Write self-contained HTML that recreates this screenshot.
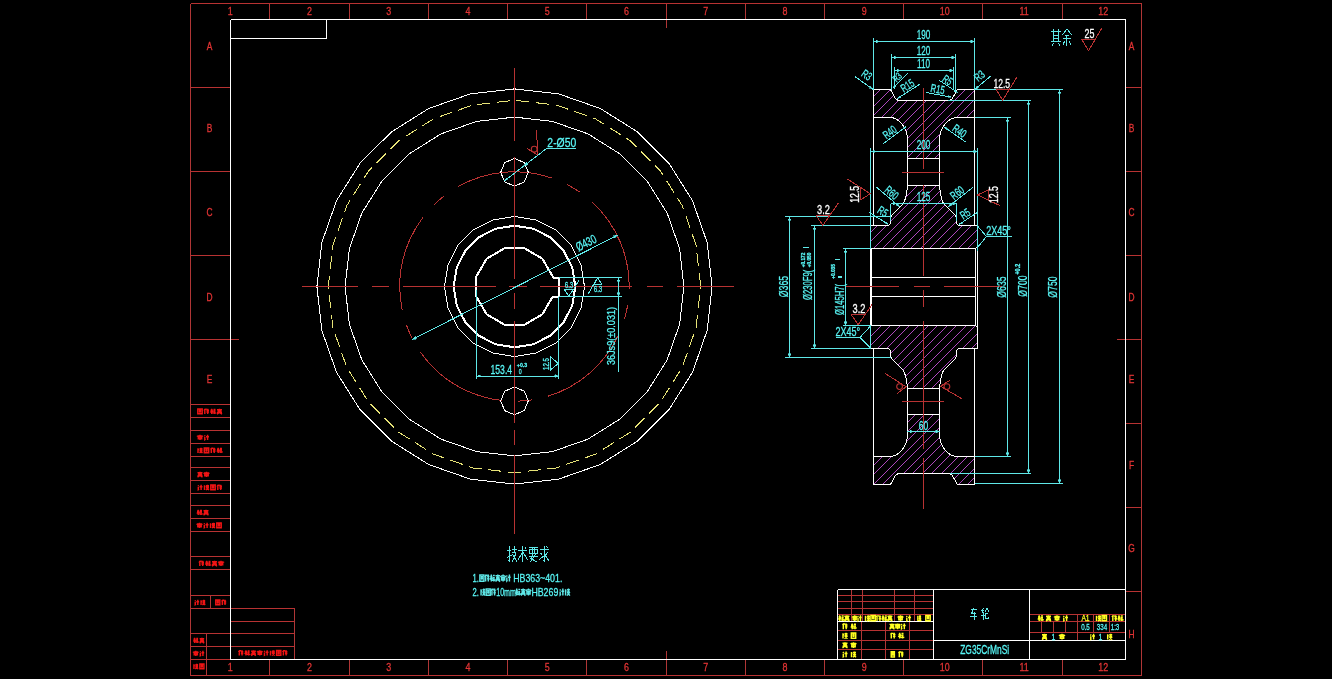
<!DOCTYPE html>
<html><head><meta charset="utf-8"><title>CAD drawing</title>
<style>
html,body{margin:0;padding:0;background:#000;overflow:hidden}
body{width:1332px;height:679px}
svg{display:block;will-change:transform}
svg text{font-family:"Liberation Sans",sans-serif}
</style></head><body>
<svg width="1332" height="679" viewBox="0 0 1332 679" shape-rendering="crispEdges">
<g shape-rendering="crispEdges">
<line x1="190.5" y1="3.5" x2="1141.5" y2="3.5" stroke="#b83232" stroke-width="1"/>
<line x1="190.5" y1="675.5" x2="1141.5" y2="675.5" stroke="#b83232" stroke-width="1"/>
<line x1="190.5" y1="3.5" x2="190.5" y2="675.5" stroke="#b03636" stroke-width="1"/>
<line x1="1141.5" y1="3.5" x2="1141.5" y2="675.5" stroke="#b03636" stroke-width="1"/>
<line x1="269.5" y1="3.5" x2="269.5" y2="19.5" stroke="#b03636" stroke-width="1"/>
<line x1="269.5" y1="659.5" x2="269.5" y2="675.5" stroke="#b03636" stroke-width="1"/>
<line x1="349.5" y1="3.5" x2="349.5" y2="19.5" stroke="#b03636" stroke-width="1"/>
<line x1="349.5" y1="659.5" x2="349.5" y2="675.5" stroke="#b03636" stroke-width="1"/>
<line x1="428.5" y1="3.5" x2="428.5" y2="19.5" stroke="#b03636" stroke-width="1"/>
<line x1="428.5" y1="659.5" x2="428.5" y2="675.5" stroke="#b03636" stroke-width="1"/>
<line x1="507.5" y1="3.5" x2="507.5" y2="19.5" stroke="#b03636" stroke-width="1"/>
<line x1="507.5" y1="659.5" x2="507.5" y2="675.5" stroke="#b03636" stroke-width="1"/>
<line x1="586.5" y1="3.5" x2="586.5" y2="19.5" stroke="#b03636" stroke-width="1"/>
<line x1="586.5" y1="659.5" x2="586.5" y2="675.5" stroke="#b03636" stroke-width="1"/>
<line x1="666.5" y1="3.5" x2="666.5" y2="19.5" stroke="#b03636" stroke-width="1"/>
<line x1="666.5" y1="659.5" x2="666.5" y2="675.5" stroke="#b03636" stroke-width="1"/>
<line x1="745.5" y1="3.5" x2="745.5" y2="19.5" stroke="#b03636" stroke-width="1"/>
<line x1="745.5" y1="659.5" x2="745.5" y2="675.5" stroke="#b03636" stroke-width="1"/>
<line x1="824.5" y1="3.5" x2="824.5" y2="19.5" stroke="#b03636" stroke-width="1"/>
<line x1="824.5" y1="659.5" x2="824.5" y2="675.5" stroke="#b03636" stroke-width="1"/>
<line x1="903.5" y1="3.5" x2="903.5" y2="19.5" stroke="#b03636" stroke-width="1"/>
<line x1="903.5" y1="659.5" x2="903.5" y2="675.5" stroke="#b03636" stroke-width="1"/>
<line x1="982.5" y1="3.5" x2="982.5" y2="19.5" stroke="#b03636" stroke-width="1"/>
<line x1="982.5" y1="659.5" x2="982.5" y2="675.5" stroke="#b03636" stroke-width="1"/>
<line x1="1062.5" y1="3.5" x2="1062.5" y2="19.5" stroke="#b03636" stroke-width="1"/>
<line x1="1062.5" y1="659.5" x2="1062.5" y2="675.5" stroke="#b03636" stroke-width="1"/>
<line x1="1125.5" y1="87.5" x2="1141.5" y2="87.5" stroke="#b83232" stroke-width="1"/>
<line x1="190.5" y1="87.5" x2="230.5" y2="87.5" stroke="#b83232" stroke-width="1"/>
<line x1="1125.5" y1="171.5" x2="1141.5" y2="171.5" stroke="#b83232" stroke-width="1"/>
<line x1="190.5" y1="171.5" x2="230.5" y2="171.5" stroke="#b83232" stroke-width="1"/>
<line x1="1125.5" y1="255.5" x2="1141.5" y2="255.5" stroke="#b83232" stroke-width="1"/>
<line x1="190.5" y1="255.5" x2="230.5" y2="255.5" stroke="#b83232" stroke-width="1"/>
<line x1="1125.5" y1="339.5" x2="1141.5" y2="339.5" stroke="#b83232" stroke-width="1"/>
<line x1="190.5" y1="339.5" x2="230.5" y2="339.5" stroke="#b83232" stroke-width="1"/>
<line x1="1125.5" y1="423.5" x2="1141.5" y2="423.5" stroke="#b83232" stroke-width="1"/>
<line x1="1125.5" y1="507.5" x2="1141.5" y2="507.5" stroke="#b83232" stroke-width="1"/>
<line x1="1125.5" y1="591.5" x2="1141.5" y2="591.5" stroke="#b83232" stroke-width="1"/>
<line x1="666.5" y1="3.5" x2="666.5" y2="28" stroke="#b03636" stroke-width="1"/>
<line x1="666.5" y1="651" x2="666.5" y2="675.5" stroke="#b03636" stroke-width="1"/>
<line x1="190.5" y1="339.5" x2="239" y2="339.5" stroke="#b83232" stroke-width="1"/>
<line x1="1117" y1="339.5" x2="1141.5" y2="339.5" stroke="#b83232" stroke-width="1"/>
<line x1="190.5" y1="404.5" x2="230.5" y2="404.5" stroke="#b83232" stroke-width="1"/>
<line x1="190.5" y1="417.5" x2="230.5" y2="417.5" stroke="#b83232" stroke-width="1"/>
<line x1="190.5" y1="430.5" x2="230.5" y2="430.5" stroke="#b83232" stroke-width="1"/>
<line x1="190.5" y1="443.5" x2="230.5" y2="443.5" stroke="#b83232" stroke-width="1"/>
<line x1="190.5" y1="456.5" x2="230.5" y2="456.5" stroke="#b83232" stroke-width="1"/>
<line x1="190.5" y1="467.5" x2="230.5" y2="467.5" stroke="#b83232" stroke-width="1"/>
<line x1="190.5" y1="480.5" x2="230.5" y2="480.5" stroke="#b83232" stroke-width="1"/>
<line x1="190.5" y1="493.5" x2="230.5" y2="493.5" stroke="#b83232" stroke-width="1"/>
<line x1="190.5" y1="505.5" x2="230.5" y2="505.5" stroke="#b83232" stroke-width="1"/>
<line x1="190.5" y1="518.5" x2="230.5" y2="518.5" stroke="#b83232" stroke-width="1"/>
<line x1="190.5" y1="531.5" x2="230.5" y2="531.5" stroke="#b83232" stroke-width="1"/>
<line x1="190.5" y1="556.5" x2="230.5" y2="556.5" stroke="#b83232" stroke-width="1"/>
<line x1="190.5" y1="569.5" x2="230.5" y2="569.5" stroke="#b83232" stroke-width="1"/>
<line x1="190.5" y1="595.5" x2="230.5" y2="595.5" stroke="#b83232" stroke-width="1"/>
<line x1="190.5" y1="608.5" x2="230.5" y2="608.5" stroke="#b83232" stroke-width="1"/>
<line x1="190.5" y1="633.5" x2="230.5" y2="633.5" stroke="#b83232" stroke-width="1"/>
<line x1="190.5" y1="646.5" x2="230.5" y2="646.5" stroke="#b83232" stroke-width="1"/>
<line x1="190.5" y1="659.5" x2="230.5" y2="659.5" stroke="#b83232" stroke-width="1"/>
<line x1="210.5" y1="595.5" x2="210.5" y2="608.5" stroke="#b03636" stroke-width="1"/>
<line x1="206.5" y1="633.5" x2="206.5" y2="675.5" stroke="#b03636" stroke-width="1"/>
<line x1="230.5" y1="608.5" x2="294.5" y2="608.5" stroke="#b83232" stroke-width="1"/>
<line x1="230.5" y1="621.5" x2="294.5" y2="621.5" stroke="#b83232" stroke-width="1"/>
<line x1="230.5" y1="633.5" x2="294.5" y2="633.5" stroke="#b83232" stroke-width="1"/>
<line x1="230.5" y1="646.5" x2="294.5" y2="646.5" stroke="#b83232" stroke-width="1"/>
<line x1="294.5" y1="608.5" x2="294.5" y2="659.5" stroke="#b03636" stroke-width="1"/>
<line x1="837.5" y1="595.5" x2="933.5" y2="595.5" stroke="#b83232" stroke-width="1"/>
<line x1="837.5" y1="601.5" x2="933.5" y2="601.5" stroke="#b83232" stroke-width="1"/>
<line x1="837.5" y1="608.5" x2="933.5" y2="608.5" stroke="#b83232" stroke-width="1"/>
<line x1="837.5" y1="614.5" x2="933.5" y2="614.5" stroke="#b83232" stroke-width="1"/>
<line x1="837.5" y1="630.5" x2="933.5" y2="630.5" stroke="#b83232" stroke-width="1"/>
<line x1="837.5" y1="640.5" x2="933.5" y2="640.5" stroke="#b83232" stroke-width="1"/>
<line x1="837.5" y1="649.5" x2="933.5" y2="649.5" stroke="#b83232" stroke-width="1"/>
<line x1="851.5" y1="589.5" x2="851.5" y2="621.5" stroke="#b03636" stroke-width="1"/>
<line x1="862.5" y1="589.5" x2="862.5" y2="621.5" stroke="#b03636" stroke-width="1"/>
<line x1="894.5" y1="589.5" x2="894.5" y2="621.5" stroke="#b03636" stroke-width="1"/>
<line x1="914.5" y1="589.5" x2="914.5" y2="621.5" stroke="#b03636" stroke-width="1"/>
<line x1="861.5" y1="621.5" x2="861.5" y2="659.5" stroke="#b03636" stroke-width="1"/>
<line x1="885.5" y1="621.5" x2="885.5" y2="659.5" stroke="#b03636" stroke-width="1"/>
<line x1="909.5" y1="621.5" x2="909.5" y2="659.5" stroke="#b03636" stroke-width="1"/>
<line x1="1029.5" y1="614.5" x2="1125.5" y2="614.5" stroke="#b83232" stroke-width="1"/>
<line x1="1029.5" y1="621.5" x2="1125.5" y2="621.5" stroke="#b83232" stroke-width="1"/>
<line x1="1029.5" y1="632.5" x2="1125.5" y2="632.5" stroke="#b83232" stroke-width="1"/>
<line x1="1077.5" y1="614.5" x2="1077.5" y2="640.5" stroke="#b03636" stroke-width="1"/>
<line x1="1093.5" y1="614.5" x2="1093.5" y2="632.5" stroke="#b03636" stroke-width="1"/>
<line x1="1109.5" y1="614.5" x2="1109.5" y2="632.5" stroke="#b03636" stroke-width="1"/>
<line x1="1041.5" y1="621.5" x2="1041.5" y2="632.5" stroke="#b03636" stroke-width="1"/>
<line x1="1053.5" y1="621.5" x2="1053.5" y2="632.5" stroke="#b03636" stroke-width="1"/>
<line x1="1065.5" y1="621.5" x2="1065.5" y2="632.5" stroke="#b03636" stroke-width="1"/>
<line x1="230.5" y1="19.5" x2="1125.5" y2="19.5" stroke="#ffffff" stroke-width="1"/>
<line x1="230.5" y1="659.5" x2="1125.5" y2="659.5" stroke="#ffffff" stroke-width="1"/>
<line x1="230.5" y1="19.5" x2="230.5" y2="659.5" stroke="#ffffff" stroke-width="1"/>
<line x1="1125.5" y1="19.5" x2="1125.5" y2="659.5" stroke="#ffffff" stroke-width="1"/>
<line x1="230.5" y1="38.5" x2="326.5" y2="38.5" stroke="#ffffff" stroke-width="1"/>
<line x1="326.5" y1="19.5" x2="326.5" y2="38.5" stroke="#ffffff" stroke-width="1"/>
<line x1="837.5" y1="589.5" x2="1125.5" y2="589.5" stroke="#ffffff" stroke-width="1"/>
<line x1="837.5" y1="589.5" x2="837.5" y2="659.5" stroke="#ffffff" stroke-width="1"/>
<line x1="933.5" y1="589.5" x2="933.5" y2="659.5" stroke="#ffffff" stroke-width="1"/>
<line x1="1029.5" y1="589.5" x2="1029.5" y2="659.5" stroke="#ffffff" stroke-width="1"/>
<line x1="933.5" y1="640.5" x2="1125.5" y2="640.5" stroke="#ffffff" stroke-width="1"/>
<line x1="837.5" y1="621.5" x2="933.5" y2="621.5" stroke="#ffffff" stroke-width="1"/>
</g>
<text transform="translate(230.32 15.2) rotate(0) scale(0.85 1)" font-size="10.5" fill="#e23434" stroke="#e23434" stroke-width="0.3" text-anchor="middle" font-weight="normal">1</text>
<text transform="translate(230.32 670.7) rotate(0) scale(0.85 1)" font-size="10.5" fill="#e23434" stroke="#e23434" stroke-width="0.3" text-anchor="middle" font-weight="normal">1</text>
<text transform="translate(309.57 15.2) rotate(0) scale(0.85 1)" font-size="10.5" fill="#e23434" stroke="#e23434" stroke-width="0.3" text-anchor="middle" font-weight="normal">2</text>
<text transform="translate(309.57 670.7) rotate(0) scale(0.85 1)" font-size="10.5" fill="#e23434" stroke="#e23434" stroke-width="0.3" text-anchor="middle" font-weight="normal">2</text>
<text transform="translate(388.82 15.2) rotate(0) scale(0.85 1)" font-size="10.5" fill="#e23434" stroke="#e23434" stroke-width="0.3" text-anchor="middle" font-weight="normal">3</text>
<text transform="translate(388.82 670.7) rotate(0) scale(0.85 1)" font-size="10.5" fill="#e23434" stroke="#e23434" stroke-width="0.3" text-anchor="middle" font-weight="normal">3</text>
<text transform="translate(468.07 15.2) rotate(0) scale(0.85 1)" font-size="10.5" fill="#e23434" stroke="#e23434" stroke-width="0.3" text-anchor="middle" font-weight="normal">4</text>
<text transform="translate(468.07 670.7) rotate(0) scale(0.85 1)" font-size="10.5" fill="#e23434" stroke="#e23434" stroke-width="0.3" text-anchor="middle" font-weight="normal">4</text>
<text transform="translate(547.33 15.2) rotate(0) scale(0.85 1)" font-size="10.5" fill="#e23434" stroke="#e23434" stroke-width="0.3" text-anchor="middle" font-weight="normal">5</text>
<text transform="translate(547.33 670.7) rotate(0) scale(0.85 1)" font-size="10.5" fill="#e23434" stroke="#e23434" stroke-width="0.3" text-anchor="middle" font-weight="normal">5</text>
<text transform="translate(626.58 15.2) rotate(0) scale(0.85 1)" font-size="10.5" fill="#e23434" stroke="#e23434" stroke-width="0.3" text-anchor="middle" font-weight="normal">6</text>
<text transform="translate(626.58 670.7) rotate(0) scale(0.85 1)" font-size="10.5" fill="#e23434" stroke="#e23434" stroke-width="0.3" text-anchor="middle" font-weight="normal">6</text>
<text transform="translate(705.83 15.2) rotate(0) scale(0.85 1)" font-size="10.5" fill="#e23434" stroke="#e23434" stroke-width="0.3" text-anchor="middle" font-weight="normal">7</text>
<text transform="translate(705.83 670.7) rotate(0) scale(0.85 1)" font-size="10.5" fill="#e23434" stroke="#e23434" stroke-width="0.3" text-anchor="middle" font-weight="normal">7</text>
<text transform="translate(785.08 15.2) rotate(0) scale(0.85 1)" font-size="10.5" fill="#e23434" stroke="#e23434" stroke-width="0.3" text-anchor="middle" font-weight="normal">8</text>
<text transform="translate(785.08 670.7) rotate(0) scale(0.85 1)" font-size="10.5" fill="#e23434" stroke="#e23434" stroke-width="0.3" text-anchor="middle" font-weight="normal">8</text>
<text transform="translate(864.33 15.2) rotate(0) scale(0.85 1)" font-size="10.5" fill="#e23434" stroke="#e23434" stroke-width="0.3" text-anchor="middle" font-weight="normal">9</text>
<text transform="translate(864.33 670.7) rotate(0) scale(0.85 1)" font-size="10.5" fill="#e23434" stroke="#e23434" stroke-width="0.3" text-anchor="middle" font-weight="normal">9</text>
<text transform="translate(944.78 15.2) rotate(0) scale(0.85 1)" font-size="10.5" fill="#e23434" stroke="#e23434" stroke-width="0.3" text-anchor="middle" font-weight="normal">10</text>
<text transform="translate(944.78 670.7) rotate(0) scale(0.85 1)" font-size="10.5" fill="#e23434" stroke="#e23434" stroke-width="0.3" text-anchor="middle" font-weight="normal">10</text>
<text transform="translate(1024.03 15.2) rotate(0) scale(0.85 1)" font-size="10.5" fill="#e23434" stroke="#e23434" stroke-width="0.3" text-anchor="middle" font-weight="normal">11</text>
<text transform="translate(1024.03 670.7) rotate(0) scale(0.85 1)" font-size="10.5" fill="#e23434" stroke="#e23434" stroke-width="0.3" text-anchor="middle" font-weight="normal">11</text>
<text transform="translate(1103.28 15.2) rotate(0) scale(0.85 1)" font-size="10.5" fill="#e23434" stroke="#e23434" stroke-width="0.3" text-anchor="middle" font-weight="normal">12</text>
<text transform="translate(1103.28 670.7) rotate(0) scale(0.85 1)" font-size="10.5" fill="#e23434" stroke="#e23434" stroke-width="0.3" text-anchor="middle" font-weight="normal">12</text>
<text transform="translate(1131.5 49.9) rotate(0) scale(0.8 1)" font-size="10.5" fill="#e23434" stroke="#e23434" stroke-width="0.3" text-anchor="middle" font-weight="normal">A</text>
<text transform="translate(209.5 49.9) rotate(0) scale(0.8 1)" font-size="10.5" fill="#e23434" stroke="#e23434" stroke-width="0.3" text-anchor="middle" font-weight="normal">A</text>
<text transform="translate(1131.5 131.7) rotate(0) scale(0.8 1)" font-size="10.5" fill="#e23434" stroke="#e23434" stroke-width="0.3" text-anchor="middle" font-weight="normal">B</text>
<text transform="translate(209.5 131.7) rotate(0) scale(0.8 1)" font-size="10.5" fill="#e23434" stroke="#e23434" stroke-width="0.3" text-anchor="middle" font-weight="normal">B</text>
<text transform="translate(1131.5 216.4) rotate(0) scale(0.8 1)" font-size="10.5" fill="#e23434" stroke="#e23434" stroke-width="0.3" text-anchor="middle" font-weight="normal">C</text>
<text transform="translate(209.5 216.4) rotate(0) scale(0.8 1)" font-size="10.5" fill="#e23434" stroke="#e23434" stroke-width="0.3" text-anchor="middle" font-weight="normal">C</text>
<text transform="translate(1131.5 300.9) rotate(0) scale(0.8 1)" font-size="10.5" fill="#e23434" stroke="#e23434" stroke-width="0.3" text-anchor="middle" font-weight="normal">D</text>
<text transform="translate(209.5 300.9) rotate(0) scale(0.8 1)" font-size="10.5" fill="#e23434" stroke="#e23434" stroke-width="0.3" text-anchor="middle" font-weight="normal">D</text>
<text transform="translate(1131.5 383.3) rotate(0) scale(0.8 1)" font-size="10.5" fill="#e23434" stroke="#e23434" stroke-width="0.3" text-anchor="middle" font-weight="normal">E</text>
<text transform="translate(209.5 383.3) rotate(0) scale(0.8 1)" font-size="10.5" fill="#e23434" stroke="#e23434" stroke-width="0.3" text-anchor="middle" font-weight="normal">E</text>
<text transform="translate(1131.5 468.9) rotate(0) scale(0.8 1)" font-size="10.5" fill="#e23434" stroke="#e23434" stroke-width="0.3" text-anchor="middle" font-weight="normal">F</text>
<text transform="translate(1131.5 551.9) rotate(0) scale(0.8 1)" font-size="10.5" fill="#e23434" stroke="#e23434" stroke-width="0.3" text-anchor="middle" font-weight="normal">G</text>
<text transform="translate(1131.5 637.9) rotate(0) scale(0.8 1)" font-size="10.5" fill="#e23434" stroke="#e23434" stroke-width="0.3" text-anchor="middle" font-weight="normal">H</text>
<path transform="translate(197.5 408.8) scale(1 0.88)" d="M0.3 0.3h4.4v5.4h-4.4z M1.3 1.8h2.4 M1.3 3.4h2.4 M2.5 1.8v2.6" stroke="#f01414" stroke-width="1.45" fill="none" vector-effect="non-scaling-stroke" shape-rendering="auto"/>
<path transform="translate(204 408.8) scale(1 0.88)" d="M1.2 0l-1.2 2 M1.2 0.6h1.6 M0.8 1.4v4.6 M2.4 1.6h2.6 M3.7 0v6 M2.4 3.6h2.6" stroke="#f01414" stroke-width="1.45" fill="none" vector-effect="non-scaling-stroke" shape-rendering="auto"/>
<path transform="translate(210.5 408.8) scale(1 0.88)" d="M0 1.6h2.4 M1.2 0v6 M1.2 2l-1.2 2.4 M1.2 2l1.2 1.8 M3 0.8h2 M2.8 2.6h2.2 M4 2.6v3.4 M3 4l-0.4 1.4 M5 4l0.2 1.4" stroke="#f01414" stroke-width="1.45" fill="none" vector-effect="non-scaling-stroke" shape-rendering="auto"/>
<path transform="translate(217 408.8) scale(1 0.88)" d="M0 1h5 M2.5 0v2.4 M0.6 2.4h3.8 M4.4 2.4l-4.4 3.6 M1 3l4 3 M0 4.2h5" stroke="#f01414" stroke-width="1.45" fill="none" vector-effect="non-scaling-stroke" shape-rendering="auto"/>
<path transform="translate(197.5 434.8) scale(1 0.88)" d="M2.5 0v1 M0 1.2h5 M0 1.2v1 M5 1.2v1 M0.8 2.6h3.4v2h-3.4z M2.5 2v4" stroke="#f01414" stroke-width="1.45" fill="none" vector-effect="non-scaling-stroke" shape-rendering="auto"/>
<path transform="translate(204 434.8) scale(1 0.88)" d="M0.3 0.8l1 0.8 M0.8 2.5v3l0.8 -0.6 M2 2.2h3 M3.6 0v6" stroke="#f01414" stroke-width="1.45" fill="none" vector-effect="non-scaling-stroke" shape-rendering="auto"/>
<path transform="translate(197.5 447.8) scale(1 0.88)" d="M0.5 0.5v5.5 M0 2h1.5 M2 1h3 M3.5 0v2.5 M2 2.8h3 M2 6l3 -3 M2.3 3.2l2.7 2.8" stroke="#f01414" stroke-width="1.45" fill="none" vector-effect="non-scaling-stroke" shape-rendering="auto"/>
<path transform="translate(204 447.8) scale(1 0.88)" d="M0.3 0.3h4.4v5.4h-4.4z M1.3 1.8h2.4 M1.3 3.4h2.4 M2.5 1.8v2.6" stroke="#f01414" stroke-width="1.45" fill="none" vector-effect="non-scaling-stroke" shape-rendering="auto"/>
<path transform="translate(210.5 447.8) scale(1 0.88)" d="M1.2 0l-1.2 2 M1.2 0.6h1.6 M0.8 1.4v4.6 M2.4 1.6h2.6 M3.7 0v6 M2.4 3.6h2.6" stroke="#f01414" stroke-width="1.45" fill="none" vector-effect="non-scaling-stroke" shape-rendering="auto"/>
<path transform="translate(217 447.8) scale(1 0.88)" d="M0 1.6h2.4 M1.2 0v6 M1.2 2l-1.2 2.4 M1.2 2l1.2 1.8 M3 0.8h2 M2.8 2.6h2.2 M4 2.6v3.4 M3 4l-0.4 1.4 M5 4l0.2 1.4" stroke="#f01414" stroke-width="1.45" fill="none" vector-effect="non-scaling-stroke" shape-rendering="auto"/>
<path transform="translate(197.5 471.8) scale(1 0.88)" d="M0 1h5 M2.5 0v2.4 M0.6 2.4h3.8 M4.4 2.4l-4.4 3.6 M1 3l4 3 M0 4.2h5" stroke="#f01414" stroke-width="1.45" fill="none" vector-effect="non-scaling-stroke" shape-rendering="auto"/>
<path transform="translate(204 471.8) scale(1 0.88)" d="M2.5 0v1 M0 1.2h5 M0 1.2v1 M5 1.2v1 M0.8 2.6h3.4v2h-3.4z M2.5 2v4" stroke="#f01414" stroke-width="1.45" fill="none" vector-effect="non-scaling-stroke" shape-rendering="auto"/>
<path transform="translate(197.5 484.8) scale(1 0.88)" d="M0.3 0.8l1 0.8 M0.8 2.5v3l0.8 -0.6 M2 2.2h3 M3.6 0v6" stroke="#f01414" stroke-width="1.45" fill="none" vector-effect="non-scaling-stroke" shape-rendering="auto"/>
<path transform="translate(204 484.8) scale(1 0.88)" d="M0.5 0.5v5.5 M0 2h1.5 M2 1h3 M3.5 0v2.5 M2 2.8h3 M2 6l3 -3 M2.3 3.2l2.7 2.8" stroke="#f01414" stroke-width="1.45" fill="none" vector-effect="non-scaling-stroke" shape-rendering="auto"/>
<path transform="translate(210.5 484.8) scale(1 0.88)" d="M0.3 0.3h4.4v5.4h-4.4z M1.3 1.8h2.4 M1.3 3.4h2.4 M2.5 1.8v2.6" stroke="#f01414" stroke-width="1.45" fill="none" vector-effect="non-scaling-stroke" shape-rendering="auto"/>
<path transform="translate(217 484.8) scale(1 0.88)" d="M1.2 0l-1.2 2 M1.2 0.6h1.6 M0.8 1.4v4.6 M2.4 1.6h2.6 M3.7 0v6 M2.4 3.6h2.6" stroke="#f01414" stroke-width="1.45" fill="none" vector-effect="non-scaling-stroke" shape-rendering="auto"/>
<path transform="translate(197 509.8) scale(1 0.88)" d="M0 1.6h2.4 M1.2 0v6 M1.2 2l-1.2 2.4 M1.2 2l1.2 1.8 M3 0.8h2 M2.8 2.6h2.2 M4 2.6v3.4 M3 4l-0.4 1.4 M5 4l0.2 1.4" stroke="#f01414" stroke-width="1.45" fill="none" vector-effect="non-scaling-stroke" shape-rendering="auto"/>
<path transform="translate(203.5 509.8) scale(1 0.88)" d="M0 1h5 M2.5 0v2.4 M0.6 2.4h3.8 M4.4 2.4l-4.4 3.6 M1 3l4 3 M0 4.2h5" stroke="#f01414" stroke-width="1.45" fill="none" vector-effect="non-scaling-stroke" shape-rendering="auto"/>
<path transform="translate(197 522.8) scale(1 0.88)" d="M2.5 0v1 M0 1.2h5 M0 1.2v1 M5 1.2v1 M0.8 2.6h3.4v2h-3.4z M2.5 2v4" stroke="#f01414" stroke-width="1.45" fill="none" vector-effect="non-scaling-stroke" shape-rendering="auto"/>
<path transform="translate(203.5 522.8) scale(1 0.88)" d="M0.3 0.8l1 0.8 M0.8 2.5v3l0.8 -0.6 M2 2.2h3 M3.6 0v6" stroke="#f01414" stroke-width="1.45" fill="none" vector-effect="non-scaling-stroke" shape-rendering="auto"/>
<path transform="translate(210 522.8) scale(1 0.88)" d="M0.5 0.5v5.5 M0 2h1.5 M2 1h3 M3.5 0v2.5 M2 2.8h3 M2 6l3 -3 M2.3 3.2l2.7 2.8" stroke="#f01414" stroke-width="1.45" fill="none" vector-effect="non-scaling-stroke" shape-rendering="auto"/>
<path transform="translate(216.5 522.8) scale(1 0.88)" d="M0.3 0.3h4.4v5.4h-4.4z M1.3 1.8h2.4 M1.3 3.4h2.4 M2.5 1.8v2.6" stroke="#f01414" stroke-width="1.45" fill="none" vector-effect="non-scaling-stroke" shape-rendering="auto"/>
<path transform="translate(199 560.8) scale(1 0.88)" d="M1.2 0l-1.2 2 M1.2 0.6h1.6 M0.8 1.4v4.6 M2.4 1.6h2.6 M3.7 0v6 M2.4 3.6h2.6" stroke="#f01414" stroke-width="1.45" fill="none" vector-effect="non-scaling-stroke" shape-rendering="auto"/>
<path transform="translate(205.5 560.8) scale(1 0.88)" d="M0 1.6h2.4 M1.2 0v6 M1.2 2l-1.2 2.4 M1.2 2l1.2 1.8 M3 0.8h2 M2.8 2.6h2.2 M4 2.6v3.4 M3 4l-0.4 1.4 M5 4l0.2 1.4" stroke="#f01414" stroke-width="1.45" fill="none" vector-effect="non-scaling-stroke" shape-rendering="auto"/>
<path transform="translate(212 560.8) scale(1 0.88)" d="M0 1h5 M2.5 0v2.4 M0.6 2.4h3.8 M4.4 2.4l-4.4 3.6 M1 3l4 3 M0 4.2h5" stroke="#f01414" stroke-width="1.45" fill="none" vector-effect="non-scaling-stroke" shape-rendering="auto"/>
<path transform="translate(218.5 560.8) scale(1 0.88)" d="M2.5 0v1 M0 1.2h5 M0 1.2v1 M5 1.2v1 M0.8 2.6h3.4v2h-3.4z M2.5 2v4" stroke="#f01414" stroke-width="1.45" fill="none" vector-effect="non-scaling-stroke" shape-rendering="auto"/>
<path transform="translate(194.5 599.8) scale(0.92 0.88)" d="M0.3 0.8l1 0.8 M0.8 2.5v3l0.8 -0.6 M2 2.2h3 M3.6 0v6" stroke="#f01414" stroke-width="1.45" fill="none" vector-effect="non-scaling-stroke" shape-rendering="auto"/>
<path transform="translate(200.6 599.8) scale(0.92 0.88)" d="M0.5 0.5v5.5 M0 2h1.5 M2 1h3 M3.5 0v2.5 M2 2.8h3 M2 6l3 -3 M2.3 3.2l2.7 2.8" stroke="#f01414" stroke-width="1.45" fill="none" vector-effect="non-scaling-stroke" shape-rendering="auto"/>
<path transform="translate(215.5 599.8) scale(0.92 0.88)" d="M0.3 0.3h4.4v5.4h-4.4z M1.3 1.8h2.4 M1.3 3.4h2.4 M2.5 1.8v2.6" stroke="#f01414" stroke-width="1.45" fill="none" vector-effect="non-scaling-stroke" shape-rendering="auto"/>
<path transform="translate(221.6 599.8) scale(0.92 0.88)" d="M1.2 0l-1.2 2 M1.2 0.6h1.6 M0.8 1.4v4.6 M2.4 1.6h2.6 M3.7 0v6 M2.4 3.6h2.6" stroke="#f01414" stroke-width="1.45" fill="none" vector-effect="non-scaling-stroke" shape-rendering="auto"/>
<path transform="translate(193.5 637.8) scale(0.92 0.88)" d="M0 1.6h2.4 M1.2 0v6 M1.2 2l-1.2 2.4 M1.2 2l1.2 1.8 M3 0.8h2 M2.8 2.6h2.2 M4 2.6v3.4 M3 4l-0.4 1.4 M5 4l0.2 1.4" stroke="#f01414" stroke-width="1.45" fill="none" vector-effect="non-scaling-stroke" shape-rendering="auto"/>
<path transform="translate(199.6 637.8) scale(0.92 0.88)" d="M0 1h5 M2.5 0v2.4 M0.6 2.4h3.8 M4.4 2.4l-4.4 3.6 M1 3l4 3 M0 4.2h5" stroke="#f01414" stroke-width="1.45" fill="none" vector-effect="non-scaling-stroke" shape-rendering="auto"/>
<path transform="translate(193.5 650.8) scale(0.92 0.88)" d="M2.5 0v1 M0 1.2h5 M0 1.2v1 M5 1.2v1 M0.8 2.6h3.4v2h-3.4z M2.5 2v4" stroke="#f01414" stroke-width="1.45" fill="none" vector-effect="non-scaling-stroke" shape-rendering="auto"/>
<path transform="translate(199.6 650.8) scale(0.92 0.88)" d="M0.3 0.8l1 0.8 M0.8 2.5v3l0.8 -0.6 M2 2.2h3 M3.6 0v6" stroke="#f01414" stroke-width="1.45" fill="none" vector-effect="non-scaling-stroke" shape-rendering="auto"/>
<path transform="translate(193.5 663.8) scale(0.92 0.88)" d="M0.5 0.5v5.5 M0 2h1.5 M2 1h3 M3.5 0v2.5 M2 2.8h3 M2 6l3 -3 M2.3 3.2l2.7 2.8" stroke="#f01414" stroke-width="1.45" fill="none" vector-effect="non-scaling-stroke" shape-rendering="auto"/>
<path transform="translate(199.6 663.8) scale(0.92 0.88)" d="M0.3 0.3h4.4v5.4h-4.4z M1.3 1.8h2.4 M1.3 3.4h2.4 M2.5 1.8v2.6" stroke="#f01414" stroke-width="1.45" fill="none" vector-effect="non-scaling-stroke" shape-rendering="auto"/>
<path transform="translate(238.5 650.3) scale(0.96 0.88)" d="M1.2 0l-1.2 2 M1.2 0.6h1.6 M0.8 1.4v4.6 M2.4 1.6h2.6 M3.7 0v6 M2.4 3.6h2.6" stroke="#f01414" stroke-width="1.45" fill="none" vector-effect="non-scaling-stroke" shape-rendering="auto"/>
<path transform="translate(244.8 650.3) scale(0.96 0.88)" d="M0 1.6h2.4 M1.2 0v6 M1.2 2l-1.2 2.4 M1.2 2l1.2 1.8 M3 0.8h2 M2.8 2.6h2.2 M4 2.6v3.4 M3 4l-0.4 1.4 M5 4l0.2 1.4" stroke="#f01414" stroke-width="1.45" fill="none" vector-effect="non-scaling-stroke" shape-rendering="auto"/>
<path transform="translate(251.1 650.3) scale(0.96 0.88)" d="M0 1h5 M2.5 0v2.4 M0.6 2.4h3.8 M4.4 2.4l-4.4 3.6 M1 3l4 3 M0 4.2h5" stroke="#f01414" stroke-width="1.45" fill="none" vector-effect="non-scaling-stroke" shape-rendering="auto"/>
<path transform="translate(257.4 650.3) scale(0.96 0.88)" d="M2.5 0v1 M0 1.2h5 M0 1.2v1 M5 1.2v1 M0.8 2.6h3.4v2h-3.4z M2.5 2v4" stroke="#f01414" stroke-width="1.45" fill="none" vector-effect="non-scaling-stroke" shape-rendering="auto"/>
<path transform="translate(263.7 650.3) scale(0.96 0.88)" d="M0.3 0.8l1 0.8 M0.8 2.5v3l0.8 -0.6 M2 2.2h3 M3.6 0v6" stroke="#f01414" stroke-width="1.45" fill="none" vector-effect="non-scaling-stroke" shape-rendering="auto"/>
<path transform="translate(270 650.3) scale(0.96 0.88)" d="M0.5 0.5v5.5 M0 2h1.5 M2 1h3 M3.5 0v2.5 M2 2.8h3 M2 6l3 -3 M2.3 3.2l2.7 2.8" stroke="#f01414" stroke-width="1.45" fill="none" vector-effect="non-scaling-stroke" shape-rendering="auto"/>
<path transform="translate(276.3 650.3) scale(0.96 0.88)" d="M0.3 0.3h4.4v5.4h-4.4z M1.3 1.8h2.4 M1.3 3.4h2.4 M2.5 1.8v2.6" stroke="#f01414" stroke-width="1.45" fill="none" vector-effect="non-scaling-stroke" shape-rendering="auto"/>
<path transform="translate(282.6 650.3) scale(0.96 0.88)" d="M1.2 0l-1.2 2 M1.2 0.6h1.6 M0.8 1.4v4.6 M2.4 1.6h2.6 M3.7 0v6 M2.4 3.6h2.6" stroke="#f01414" stroke-width="1.45" fill="none" vector-effect="non-scaling-stroke" shape-rendering="auto"/>
<path transform="translate(838.5 615.3) scale(1.04 0.97)" d="M0 1.6h2.4 M1.2 0v6 M1.2 2l-1.2 2.4 M1.2 2l1.2 1.8 M3 0.8h2 M2.8 2.6h2.2 M4 2.6v3.4 M3 4l-0.4 1.4 M5 4l0.2 1.4" stroke="#ffff20" stroke-width="1.45" fill="none" vector-effect="non-scaling-stroke" shape-rendering="auto"/>
<path transform="translate(844.3 615.3) scale(1.04 0.97)" d="M0 1h5 M2.5 0v2.4 M0.6 2.4h3.8 M4.4 2.4l-4.4 3.6 M1 3l4 3 M0 4.2h5" stroke="#ffff20" stroke-width="1.45" fill="none" vector-effect="non-scaling-stroke" shape-rendering="auto"/>
<path transform="translate(852.5 615.3) scale(0.88 0.97)" d="M2.5 0v1 M0 1.2h5 M0 1.2v1 M5 1.2v1 M0.8 2.6h3.4v2h-3.4z M2.5 2v4" stroke="#ffff20" stroke-width="1.45" fill="none" vector-effect="non-scaling-stroke" shape-rendering="auto"/>
<path transform="translate(857.3 615.3) scale(0.88 0.97)" d="M0.3 0.8l1 0.8 M0.8 2.5v3l0.8 -0.6 M2 2.2h3 M3.6 0v6" stroke="#ffff20" stroke-width="1.45" fill="none" vector-effect="non-scaling-stroke" shape-rendering="auto"/>
<path transform="translate(865 615.3) scale(1 0.97)" d="M0.5 0.5v5.5 M0 2h1.5 M2 1h3 M3.5 0v2.5 M2 2.8h3 M2 6l3 -3 M2.3 3.2l2.7 2.8" stroke="#ffff20" stroke-width="1.45" fill="none" vector-effect="non-scaling-stroke" shape-rendering="auto"/>
<path transform="translate(870.6 615.3) scale(1 0.97)" d="M0.3 0.3h4.4v5.4h-4.4z M1.3 1.8h2.4 M1.3 3.4h2.4 M2.5 1.8v2.6" stroke="#ffff20" stroke-width="1.45" fill="none" vector-effect="non-scaling-stroke" shape-rendering="auto"/>
<path transform="translate(876.2 615.3) scale(1 0.97)" d="M1.2 0l-1.2 2 M1.2 0.6h1.6 M0.8 1.4v4.6 M2.4 1.6h2.6 M3.7 0v6 M2.4 3.6h2.6" stroke="#ffff20" stroke-width="1.45" fill="none" vector-effect="non-scaling-stroke" shape-rendering="auto"/>
<path transform="translate(881.8 615.3) scale(1 0.97)" d="M0 1.6h2.4 M1.2 0v6 M1.2 2l-1.2 2.4 M1.2 2l1.2 1.8 M3 0.8h2 M2.8 2.6h2.2 M4 2.6v3.4 M3 4l-0.4 1.4 M5 4l0.2 1.4" stroke="#ffff20" stroke-width="1.45" fill="none" vector-effect="non-scaling-stroke" shape-rendering="auto"/>
<path transform="translate(887.4 615.3) scale(1 0.97)" d="M0 1h5 M2.5 0v2.4 M0.6 2.4h3.8 M4.4 2.4l-4.4 3.6 M1 3l4 3 M0 4.2h5" stroke="#ffff20" stroke-width="1.45" fill="none" vector-effect="non-scaling-stroke" shape-rendering="auto"/>
<path transform="translate(898 615.3) scale(1 0.97)" d="M2.5 0v1 M0 1.2h5 M0 1.2v1 M5 1.2v1 M0.8 2.6h3.4v2h-3.4z M2.5 2v4" stroke="#ffff20" stroke-width="1.45" fill="none" vector-effect="non-scaling-stroke" shape-rendering="auto"/>
<path transform="translate(906 615.3) scale(1 0.97)" d="M0.3 0.8l1 0.8 M0.8 2.5v3l0.8 -0.6 M2 2.2h3 M3.6 0v6" stroke="#ffff20" stroke-width="1.45" fill="none" vector-effect="non-scaling-stroke" shape-rendering="auto"/>
<path transform="translate(917.5 615.3) scale(0.72 0.97)" d="M0.5 0.5v5.5 M0 2h1.5 M2 1h3 M3.5 0v2.5 M2 2.8h3 M2 6l3 -3 M2.3 3.2l2.7 2.8" stroke="#ffff20" stroke-width="1.45" fill="none" vector-effect="non-scaling-stroke" shape-rendering="auto"/>
<path transform="translate(925.5 615.3) scale(1 0.97)" d="M0.3 0.3h4.4v5.4h-4.4z M1.3 1.8h2.4 M1.3 3.4h2.4 M2.5 1.8v2.6" stroke="#ffff20" stroke-width="1.45" fill="none" vector-effect="non-scaling-stroke" shape-rendering="auto"/>
<path transform="translate(842.5 623.4) scale(1 0.97)" d="M1.2 0l-1.2 2 M1.2 0.6h1.6 M0.8 1.4v4.6 M2.4 1.6h2.6 M3.7 0v6 M2.4 3.6h2.6" stroke="#ffff20" stroke-width="1.45" fill="none" vector-effect="non-scaling-stroke" shape-rendering="auto"/>
<path transform="translate(851 623.4) scale(1 0.97)" d="M0 1.6h2.4 M1.2 0v6 M1.2 2l-1.2 2.4 M1.2 2l1.2 1.8 M3 0.8h2 M2.8 2.6h2.2 M4 2.6v3.4 M3 4l-0.4 1.4 M5 4l0.2 1.4" stroke="#ffff20" stroke-width="1.45" fill="none" vector-effect="non-scaling-stroke" shape-rendering="auto"/>
<path transform="translate(889.5 623.4) scale(1 0.97)" d="M0 1h5 M2.5 0v2.4 M0.6 2.4h3.8 M4.4 2.4l-4.4 3.6 M1 3l4 3 M0 4.2h5" stroke="#ffff20" stroke-width="1.45" fill="none" vector-effect="non-scaling-stroke" shape-rendering="auto"/>
<path transform="translate(895.1 623.4) scale(1 0.97)" d="M2.5 0v1 M0 1.2h5 M0 1.2v1 M5 1.2v1 M0.8 2.6h3.4v2h-3.4z M2.5 2v4" stroke="#ffff20" stroke-width="1.45" fill="none" vector-effect="non-scaling-stroke" shape-rendering="auto"/>
<path transform="translate(900.7 623.4) scale(1 0.97)" d="M0.3 0.8l1 0.8 M0.8 2.5v3l0.8 -0.6 M2 2.2h3 M3.6 0v6" stroke="#ffff20" stroke-width="1.45" fill="none" vector-effect="non-scaling-stroke" shape-rendering="auto"/>
<path transform="translate(842.5 632.8) scale(1 0.97)" d="M0.5 0.5v5.5 M0 2h1.5 M2 1h3 M3.5 0v2.5 M2 2.8h3 M2 6l3 -3 M2.3 3.2l2.7 2.8" stroke="#ffff20" stroke-width="1.45" fill="none" vector-effect="non-scaling-stroke" shape-rendering="auto"/>
<path transform="translate(851 632.8) scale(1 0.97)" d="M0.3 0.3h4.4v5.4h-4.4z M1.3 1.8h2.4 M1.3 3.4h2.4 M2.5 1.8v2.6" stroke="#ffff20" stroke-width="1.45" fill="none" vector-effect="non-scaling-stroke" shape-rendering="auto"/>
<path transform="translate(890.5 632.8) scale(1 0.97)" d="M1.2 0l-1.2 2 M1.2 0.6h1.6 M0.8 1.4v4.6 M2.4 1.6h2.6 M3.7 0v6 M2.4 3.6h2.6" stroke="#ffff20" stroke-width="1.45" fill="none" vector-effect="non-scaling-stroke" shape-rendering="auto"/>
<path transform="translate(898.5 632.8) scale(1 0.97)" d="M0 1.6h2.4 M1.2 0v6 M1.2 2l-1.2 2.4 M1.2 2l1.2 1.8 M3 0.8h2 M2.8 2.6h2.2 M4 2.6v3.4 M3 4l-0.4 1.4 M5 4l0.2 1.4" stroke="#ffff20" stroke-width="1.45" fill="none" vector-effect="non-scaling-stroke" shape-rendering="auto"/>
<path transform="translate(842.5 642.2) scale(1 0.97)" d="M0 1h5 M2.5 0v2.4 M0.6 2.4h3.8 M4.4 2.4l-4.4 3.6 M1 3l4 3 M0 4.2h5" stroke="#ffff20" stroke-width="1.45" fill="none" vector-effect="non-scaling-stroke" shape-rendering="auto"/>
<path transform="translate(851 642.2) scale(1 0.97)" d="M2.5 0v1 M0 1.2h5 M0 1.2v1 M5 1.2v1 M0.8 2.6h3.4v2h-3.4z M2.5 2v4" stroke="#ffff20" stroke-width="1.45" fill="none" vector-effect="non-scaling-stroke" shape-rendering="auto"/>
<path transform="translate(842.5 651.4) scale(1 0.97)" d="M0.3 0.8l1 0.8 M0.8 2.5v3l0.8 -0.6 M2 2.2h3 M3.6 0v6" stroke="#ffff20" stroke-width="1.45" fill="none" vector-effect="non-scaling-stroke" shape-rendering="auto"/>
<path transform="translate(851 651.4) scale(1 0.97)" d="M0.5 0.5v5.5 M0 2h1.5 M2 1h3 M3.5 0v2.5 M2 2.8h3 M2 6l3 -3 M2.3 3.2l2.7 2.8" stroke="#ffff20" stroke-width="1.45" fill="none" vector-effect="non-scaling-stroke" shape-rendering="auto"/>
<path transform="translate(891 651.4) scale(0.72 0.97)" d="M0.3 0.3h4.4v5.4h-4.4z M1.3 1.8h2.4 M1.3 3.4h2.4 M2.5 1.8v2.6" stroke="#ffff20" stroke-width="1.45" fill="none" vector-effect="non-scaling-stroke" shape-rendering="auto"/>
<path transform="translate(898.5 651.4) scale(1 0.97)" d="M1.2 0l-1.2 2 M1.2 0.6h1.6 M0.8 1.4v4.6 M2.4 1.6h2.6 M3.7 0v6 M2.4 3.6h2.6" stroke="#ffff20" stroke-width="1.45" fill="none" vector-effect="non-scaling-stroke" shape-rendering="auto"/>
<path transform="translate(1038 615.3) scale(1 0.97)" d="M0 1.6h2.4 M1.2 0v6 M1.2 2l-1.2 2.4 M1.2 2l1.2 1.8 M3 0.8h2 M2.8 2.6h2.2 M4 2.6v3.4 M3 4l-0.4 1.4 M5 4l0.2 1.4" stroke="#ffff20" stroke-width="1.45" fill="none" vector-effect="non-scaling-stroke" shape-rendering="auto"/>
<path transform="translate(1046 615.3) scale(1 0.97)" d="M0 1h5 M2.5 0v2.4 M0.6 2.4h3.8 M4.4 2.4l-4.4 3.6 M1 3l4 3 M0 4.2h5" stroke="#ffff20" stroke-width="1.45" fill="none" vector-effect="non-scaling-stroke" shape-rendering="auto"/>
<path transform="translate(1054.5 615.3) scale(1 0.97)" d="M2.5 0v1 M0 1.2h5 M0 1.2v1 M5 1.2v1 M0.8 2.6h3.4v2h-3.4z M2.5 2v4" stroke="#ffff20" stroke-width="1.45" fill="none" vector-effect="non-scaling-stroke" shape-rendering="auto"/>
<path transform="translate(1063 615.3) scale(1 0.97)" d="M0.3 0.8l1 0.8 M0.8 2.5v3l0.8 -0.6 M2 2.2h3 M3.6 0v6" stroke="#ffff20" stroke-width="1.45" fill="none" vector-effect="non-scaling-stroke" shape-rendering="auto"/>
<text transform="translate(1085.5 621) rotate(0) scale(0.78 1)" font-size="8.6" fill="#ffff20" stroke="#ffff20" stroke-width="0.3" text-anchor="middle" font-weight="normal">A1</text>
<path transform="translate(1096 615.3) scale(1 0.97)" d="M0.5 0.5v5.5 M0 2h1.5 M2 1h3 M3.5 0v2.5 M2 2.8h3 M2 6l3 -3 M2.3 3.2l2.7 2.8" stroke="#ffff20" stroke-width="1.45" fill="none" vector-effect="non-scaling-stroke" shape-rendering="auto"/>
<path transform="translate(1101.8 615.3) scale(1 0.97)" d="M0.3 0.3h4.4v5.4h-4.4z M1.3 1.8h2.4 M1.3 3.4h2.4 M2.5 1.8v2.6" stroke="#ffff20" stroke-width="1.45" fill="none" vector-effect="non-scaling-stroke" shape-rendering="auto"/>
<path transform="translate(1112 615.3) scale(1 0.97)" d="M1.2 0l-1.2 2 M1.2 0.6h1.6 M0.8 1.4v4.6 M2.4 1.6h2.6 M3.7 0v6 M2.4 3.6h2.6" stroke="#ffff20" stroke-width="1.45" fill="none" vector-effect="non-scaling-stroke" shape-rendering="auto"/>
<path transform="translate(1117.8 615.3) scale(1 0.97)" d="M0 1.6h2.4 M1.2 0v6 M1.2 2l-1.2 2.4 M1.2 2l1.2 1.8 M3 0.8h2 M2.8 2.6h2.2 M4 2.6v3.4 M3 4l-0.4 1.4 M5 4l0.2 1.4" stroke="#ffff20" stroke-width="1.45" fill="none" vector-effect="non-scaling-stroke" shape-rendering="auto"/>
<text transform="translate(1085.5 630.4) rotate(0) scale(0.72 1)" font-size="8.6" fill="#58f6f6" stroke="#58f6f6" stroke-width="0.3" text-anchor="middle" font-weight="normal">0.5</text>
<text transform="translate(1102 630.4) rotate(0) scale(0.72 1)" font-size="8.6" fill="#58f6f6" stroke="#58f6f6" stroke-width="0.3" text-anchor="middle" font-weight="normal">334</text>
<text transform="translate(1115 630.4) rotate(0) scale(0.72 1)" font-size="8.6" fill="#58f6f6" stroke="#58f6f6" stroke-width="0.3" text-anchor="middle" font-weight="normal">1:3</text>
<path transform="translate(1042 633.8) scale(1 0.97)" d="M0 1h5 M2.5 0v2.4 M0.6 2.4h3.8 M4.4 2.4l-4.4 3.6 M1 3l4 3 M0 4.2h5" stroke="#ffff20" stroke-width="1.45" fill="none" vector-effect="non-scaling-stroke" shape-rendering="auto"/>
<text transform="translate(1053.3 639.8) rotate(0) scale(0.8 1)" font-size="8.6" fill="#58f6f6" stroke="#58f6f6" stroke-width="0.3" text-anchor="middle" font-weight="normal">1</text>
<path transform="translate(1059.5 633.8) scale(1 0.97)" d="M2.5 0v1 M0 1.2h5 M0 1.2v1 M5 1.2v1 M0.8 2.6h3.4v2h-3.4z M2.5 2v4" stroke="#ffff20" stroke-width="1.45" fill="none" vector-effect="non-scaling-stroke" shape-rendering="auto"/>
<path transform="translate(1090 633.8) scale(1 0.97)" d="M0.3 0.8l1 0.8 M0.8 2.5v3l0.8 -0.6 M2 2.2h3 M3.6 0v6" stroke="#ffff20" stroke-width="1.45" fill="none" vector-effect="non-scaling-stroke" shape-rendering="auto"/>
<text transform="translate(1100.4 639.8) rotate(0) scale(0.8 1)" font-size="8.6" fill="#58f6f6" stroke="#58f6f6" stroke-width="0.3" text-anchor="middle" font-weight="normal">1</text>
<path transform="translate(1107.2 633.8) scale(1 0.97)" d="M0.5 0.5v5.5 M0 2h1.5 M2 1h3 M3.5 0v2.5 M2 2.8h3 M2 6l3 -3 M2.3 3.2l2.7 2.8" stroke="#ffff20" stroke-width="1.45" fill="none" vector-effect="non-scaling-stroke" shape-rendering="auto"/>
<text transform="translate(984.7 654) rotate(0) scale(0.7 1)" font-size="12" fill="#58f6f6" stroke="#58f6f6" stroke-width="0.3" text-anchor="middle" font-weight="normal">ZG35CrMnSi</text>
<g>
<polygon points="514.5,88.9 558.47,93.85 600.24,108.47 637.7,132.01 668.99,163.3 692.53,200.76 707.15,242.53 712.1,286.5 707.15,330.47 692.53,372.24 668.99,409.7 637.7,440.99 600.24,464.53 558.47,479.15 514.5,484.1 470.53,479.15 428.76,464.53 391.3,440.99 360.01,409.7 336.47,372.24 321.85,330.47 316.9,286.5 321.85,242.53 336.47,200.76 360.01,163.3 391.3,132.01 428.76,108.47 470.53,93.85" fill="none" stroke="#ffffff" stroke-width="1" stroke-linejoin="round"/>
<polygon points="514.5,117.1 552.2,121.35 588,133.88 620.12,154.06 646.94,180.88 667.12,213 679.65,248.8 683.9,286.5 679.65,324.2 667.12,360 646.94,392.12 620.12,418.94 588,439.12 552.2,451.65 514.5,455.9 476.8,451.65 441,439.12 408.88,418.94 382.06,392.12 361.88,360 349.35,324.2 345.1,286.5 349.35,248.8 361.88,213 382.06,180.88 408.88,154.06 441,133.88 476.8,121.35" fill="none" stroke="#ffffff" stroke-width="1" stroke-linejoin="round"/>
<path d="M700.7 286.5 L696.03 327.93 L682.26 367.29 L660.08 402.59 L630.59 432.08 L595.29 454.26 L555.93 468.03 L514.5 472.7 L473.07 468.03 L433.71 454.26 L398.41 432.08 L368.92 402.59 L346.74 367.29 L332.97 327.93 L328.3 286.5 L332.97 245.07 L346.74 205.71 L368.92 170.41 L398.41 140.92 L433.71 118.74 L473.07 104.97 L514.5 100.3 L555.93 104.97 L595.29 118.74 L630.59 140.92 L660.08 170.41 L682.26 205.71 L696.03 245.07 Z" fill="none" stroke="#e8e478" stroke-width="1" stroke-dasharray="13.1 6.64" stroke-dashoffset="-8.94"/>
<circle cx="514.5" cy="286.5" r="114.7" fill="none" stroke="#b83232" stroke-width="1" stroke-dasharray="97.5 16 14.6 16.03" transform="rotate(24.2 514.5 286.5)"/>
<polygon points="514.5,216.5 536.13,219.93 555.64,229.87 571.13,245.36 581.07,264.87 584.5,286.5 581.07,308.13 571.13,327.64 555.64,343.13 536.13,353.07 514.5,356.5 492.87,353.07 473.36,343.13 457.87,327.64 447.93,308.13 444.5,286.5 447.93,264.87 457.87,245.36 473.36,229.87 492.87,219.93" fill="none" stroke="#ffffff" stroke-width="1" stroke-linejoin="round"/>
<polygon points="514.5,225.7 533.29,228.68 550.24,237.31 563.69,250.76 572.32,267.71 575.3,286.5 572.32,305.29 563.69,322.24 550.24,335.69 533.29,344.32 514.5,347.3 495.71,344.32 478.76,335.69 465.31,322.24 456.68,305.29 453.7,286.5 456.68,267.71 465.31,250.76 478.76,237.31 495.71,228.68" fill="none" stroke="#ffffff" stroke-width="2" stroke-linejoin="round"/>
<polygon points="524.7,248.44 542.36,258.64 552.56,276.3 552.56,277.5 558.5,277.5 558.5,296.5 552.56,296.5 552.56,296.7 542.36,314.36 524.7,324.56 504.3,324.56 486.64,314.36 476.44,296.7 476.44,276.3 486.64,258.64 504.3,248.44" fill="none" stroke="#ffffff" stroke-width="2" stroke-linejoin="round"/>
<polygon points="514.5,158.5 524.26,162.54 528.3,172.3 524.26,182.06 514.5,186.1 504.74,182.06 500.7,172.3 504.74,162.54" fill="none" stroke="#ffffff" stroke-width="1" stroke-linejoin="round"/>
<polygon points="514.5,387.1 524.26,391.14 528.3,400.9 524.26,410.66 514.5,414.7 504.74,410.66 500.7,400.9 504.74,391.14" fill="none" stroke="#ffffff" stroke-width="1" stroke-linejoin="round"/>
</g>
<g shape-rendering="crispEdges">
<line x1="302" y1="286.5" x2="358" y2="286.5" stroke="#b83232" stroke-width="1"/>
<line x1="372" y1="286.5" x2="389" y2="286.5" stroke="#b83232" stroke-width="1"/>
<line x1="403" y1="286.5" x2="495.5" y2="286.5" stroke="#b83232" stroke-width="1"/>
<line x1="509" y1="286.5" x2="526.5" y2="286.5" stroke="#b83232" stroke-width="1"/>
<line x1="539.5" y1="286.5" x2="632" y2="286.5" stroke="#b83232" stroke-width="1"/>
<line x1="647" y1="286.5" x2="663" y2="286.5" stroke="#b83232" stroke-width="1"/>
<line x1="677" y1="286.5" x2="734" y2="286.5" stroke="#b83232" stroke-width="1"/>
<line x1="514.5" y1="68" x2="514.5" y2="141" stroke="#b83232" stroke-width="1"/>
<line x1="514.5" y1="156.5" x2="514.5" y2="278.5" stroke="#b83232" stroke-width="1"/>
<line x1="514.5" y1="293" x2="514.5" y2="309" stroke="#b83232" stroke-width="1"/>
<line x1="514.5" y1="321" x2="514.5" y2="422.5" stroke="#b83232" stroke-width="1"/>
<line x1="514.5" y1="430" x2="514.5" y2="445" stroke="#b83232" stroke-width="1"/>
<line x1="514.5" y1="454.5" x2="514.5" y2="534" stroke="#b83232" stroke-width="1"/>
</g>
<line x1="412.4" y1="339.4" x2="618" y2="235" stroke="#5fe8e8" stroke-width="1"/>
<polygon points="412.6,339.3 415.15,336.38 416.47,338.96" fill="#5fe8e8" stroke="#5fe8e8" stroke-width="0.6"/>
<polygon points="617.3,235.3 614.75,238.22 613.43,235.64" fill="#5fe8e8" stroke="#5fe8e8" stroke-width="0.6"/>
<text transform="translate(588 246.6) rotate(-26.92) scale(0.7 1)" font-size="12.4" fill="#58f6f6" stroke="#58f6f6" stroke-width="0.3" text-anchor="middle" font-weight="normal">Ø430</text>
<polyline points="504.6,180.8 546.6,148.5 576,148.5" fill="none" stroke="#5fe8e8" stroke-width="1" stroke-linejoin="round"/>
<polygon points="523.4,166.2 526.45,161.96 528.28,164.34" fill="#5fe8e8" stroke="#5fe8e8" stroke-width="0.6"/>
<polygon points="505.2,180.3 506.97,177.68 508.19,179.26" fill="#5fe8e8" stroke="#5fe8e8" stroke-width="0.6"/>
<text transform="translate(561.8 146.6) rotate(0) scale(0.8 1)" font-size="13" fill="#58f6f6" stroke="#58f6f6" stroke-width="0.3" text-anchor="middle" font-weight="normal">2-Ø50</text>
<polyline points="536.3,130 538,155 526.7,148.4" fill="none" stroke="#b83232" stroke-width="1" stroke-linejoin="round"/>
<circle cx="534.2" cy="149.2" r="2.9" fill="none" stroke="#b83232" stroke-width="1.1" shape-rendering="geometricPrecision"/>
<line x1="476.5" y1="290" x2="476.5" y2="379" stroke="#5fe8e8" stroke-width="1"/>
<line x1="558.5" y1="296.5" x2="558.5" y2="379" stroke="#5fe8e8" stroke-width="1"/>
<line x1="476.5" y1="376" x2="558.5" y2="376" stroke="#5fe8e8" stroke-width="1"/>
<polygon points="476.5,376 480.1,374.55 480.1,377.45" fill="#5fe8e8" stroke="#5fe8e8" stroke-width="0.6"/>
<polygon points="558.5,376 554.9,377.45 554.9,374.55" fill="#5fe8e8" stroke="#5fe8e8" stroke-width="0.6"/>
<text transform="translate(501.3 374.3) rotate(0) scale(0.72 1)" font-size="12" fill="#58f6f6" stroke="#58f6f6" stroke-width="0.3" text-anchor="middle" font-weight="normal">153.4</text>
<text transform="translate(522 367) rotate(0) scale(0.85 1)" font-size="6.2" fill="#58f6f6" stroke="#58f6f6" stroke-width="0.3" text-anchor="middle" font-weight="bold">+0.3</text>
<text transform="translate(520.3 374) rotate(0) scale(0.7 1)" font-size="7.5" fill="#58f6f6" stroke="#58f6f6" stroke-width="0.3" text-anchor="middle" font-weight="normal">0</text>
<line x1="558.5" y1="277.5" x2="622" y2="277.5" stroke="#5fe8e8" stroke-width="1"/>
<line x1="558.5" y1="296.5" x2="622" y2="296.5" stroke="#5fe8e8" stroke-width="1"/>
<line x1="618.5" y1="277.5" x2="618.5" y2="371.5" stroke="#5fe8e8" stroke-width="1"/>
<polygon points="618.5,277.5 619.95,281.1 617.05,281.1" fill="#5fe8e8" stroke="#5fe8e8" stroke-width="0.6"/>
<polygon points="618.5,296.5 617.05,292.9 619.95,292.9" fill="#5fe8e8" stroke="#5fe8e8" stroke-width="0.6"/>
<text transform="translate(615.4 336) rotate(-90) scale(0.8 1)" font-size="11.4" fill="#58f6f6" stroke="#58f6f6" stroke-width="0.3" text-anchor="middle" font-weight="normal">36Js9(±0.031)</text>
<polyline points="564.2,289.2 573.8,289.2 568.7,296.1 564.2,289.2" fill="none" stroke="#5fe8e8" stroke-width="1" stroke-linejoin="round"/>
<line x1="573.8" y1="289.2" x2="578.9" y2="280.2" stroke="#5fe8e8" stroke-width="1"/>
<text transform="translate(569 288.2) rotate(0) scale(0.72 1)" font-size="8.6" fill="#58f6f6" stroke="#58f6f6" stroke-width="0.3" text-anchor="middle" font-weight="normal">6.3</text>
<polyline points="594.1,284.3 601.8,284.3 597.6,277.8 588.3,293.7" fill="none" stroke="#5fe8e8" stroke-width="1" stroke-linejoin="round"/>
<line x1="594.1" y1="284.3" x2="597.6" y2="277.8" stroke="#5fe8e8" stroke-width="1"/>
<text transform="translate(598 292.4) rotate(0) scale(0.72 1)" font-size="8.6" fill="#58f6f6" stroke="#58f6f6" stroke-width="0.3" text-anchor="middle" font-weight="normal">6.3</text>
<polyline points="550,356.6 558.3,363.4 550,370.4 550,356.6" fill="none" stroke="#5fe8e8" stroke-width="1" stroke-linejoin="round"/>
<text transform="translate(549 364) rotate(-90) scale(0.68 1)" font-size="9" fill="#58f6f6" stroke="#58f6f6" stroke-width="0.3" text-anchor="middle" font-weight="normal">12.5</text>
<defs>
<clipPath id="cp0"><path d="M873.5 89.5 L889.7 89.5 Q891.4 89.7 892.2 92.6 L894.4 96.6 Q896 100.5 899.6 100.5 L948.2 100.5 Q951.8 100.5 953.4 96.6 L955.6 92.6 Q956.4 89.7 958.1 89.5 L974.5 89.5 L974.5 117.5 L957.5 117.5 A18 23 0 0 0 939.5 140.5 L939.5 158.5 L907.5 158.5 L907.5 140.5 A18 23 0 0 0 889.5 117.5 L873.5 117.5 Z"/></clipPath>
<clipPath id="cp1"><path d="M939.5 185.5 L907.5 185.5 Q906.6 196.5 903.7 203.2 L892.6 214.4 Q890.5 216.4 890.5 218.5 L890.5 222 Q890.3 225.5 887.4 225.5 L870.5 225.5 L870.5 248.5 L975.5 248.5 L977.5 247 L977.5 225.5 L959.8 225.5 Q956.7 225.5 956.5 222 L956.5 218.5 Q956.5 216.4 954.4 214.4 L943.3 203.2 Q940.4 196.5 939.5 185.5 Z"/></clipPath>
<clipPath id="cp2"><path d="M939.5 388.5 L907.5 388.5 Q906.6 377.5 903.7 370.8 L892.6 359.6 Q890.5 357.6 890.5 355.5 L890.5 352 Q890.3 348.5 887.4 348.5 L870.5 348.5 L870.5 325.5 L975.5 325.5 L977.5 327 L977.5 348.5 L959.8 348.5 Q956.7 348.5 956.5 352 L956.5 355.5 Q956.5 357.6 954.4 359.6 L943.3 370.8 Q940.4 377.5 939.5 388.5 Z"/></clipPath>
<clipPath id="cp3"><path d="M873.5 484.5 L889.7 484.5 Q891.4 484.3 892.2 481.4 L894.4 477.4 Q896 473.5 899.6 473.5 L948.2 473.5 Q951.8 473.5 953.4 477.4 L955.6 481.4 Q956.4 484.3 958.1 484.5 L974.5 484.5 L974.5 456.5 L957.5 456.5 A18 23 0 0 1 939.5 433.5 L939.5 414.5 L907.5 414.5 L907.5 433.5 A18 23 0 0 1 889.5 456.5 L873.5 456.5 Z"/></clipPath>
</defs>
<g clip-path="url(#cp0)" stroke="#c050d0" stroke-width="0.9" shape-rendering="crispEdges">
<line x1="860" y1="-173.1" x2="990" y2="-303.1"/>
<line x1="860" y1="-163.65" x2="990" y2="-293.65"/>
<line x1="860" y1="-154.2" x2="990" y2="-284.2"/>
<line x1="860" y1="-144.75" x2="990" y2="-274.75"/>
<line x1="860" y1="-135.3" x2="990" y2="-265.3"/>
<line x1="860" y1="-125.85" x2="990" y2="-255.85"/>
<line x1="860" y1="-116.4" x2="990" y2="-246.4"/>
<line x1="860" y1="-106.95" x2="990" y2="-236.95"/>
<line x1="860" y1="-97.5" x2="990" y2="-227.5"/>
<line x1="860" y1="-88.05" x2="990" y2="-218.05"/>
<line x1="860" y1="-78.6" x2="990" y2="-208.6"/>
<line x1="860" y1="-69.15" x2="990" y2="-199.15"/>
<line x1="860" y1="-59.7" x2="990" y2="-189.7"/>
<line x1="860" y1="-50.25" x2="990" y2="-180.25"/>
<line x1="860" y1="-40.8" x2="990" y2="-170.8"/>
<line x1="860" y1="-31.35" x2="990" y2="-161.35"/>
<line x1="860" y1="-21.9" x2="990" y2="-151.9"/>
<line x1="860" y1="-12.45" x2="990" y2="-142.45"/>
<line x1="860" y1="-3" x2="990" y2="-133"/>
<line x1="860" y1="6.45" x2="990" y2="-123.55"/>
<line x1="860" y1="15.9" x2="990" y2="-114.1"/>
<line x1="860" y1="25.35" x2="990" y2="-104.65"/>
<line x1="860" y1="34.8" x2="990" y2="-95.2"/>
<line x1="860" y1="44.25" x2="990" y2="-85.75"/>
<line x1="860" y1="53.7" x2="990" y2="-76.3"/>
<line x1="860" y1="63.15" x2="990" y2="-66.85"/>
<line x1="860" y1="72.6" x2="990" y2="-57.4"/>
<line x1="860" y1="82.05" x2="990" y2="-47.95"/>
<line x1="860" y1="91.5" x2="990" y2="-38.5"/>
<line x1="860" y1="100.95" x2="990" y2="-29.05"/>
<line x1="860" y1="110.4" x2="990" y2="-19.6"/>
<line x1="860" y1="119.85" x2="990" y2="-10.15"/>
<line x1="860" y1="129.3" x2="990" y2="-0.7"/>
<line x1="860" y1="138.75" x2="990" y2="8.75"/>
<line x1="860" y1="148.2" x2="990" y2="18.2"/>
<line x1="860" y1="157.65" x2="990" y2="27.65"/>
<line x1="860" y1="167.1" x2="990" y2="37.1"/>
<line x1="860" y1="176.55" x2="990" y2="46.55"/>
<line x1="860" y1="186" x2="990" y2="56"/>
<line x1="860" y1="195.45" x2="990" y2="65.45"/>
<line x1="860" y1="204.9" x2="990" y2="74.9"/>
<line x1="860" y1="214.35" x2="990" y2="84.35"/>
<line x1="860" y1="223.8" x2="990" y2="93.8"/>
<line x1="860" y1="233.25" x2="990" y2="103.25"/>
<line x1="860" y1="242.7" x2="990" y2="112.7"/>
<line x1="860" y1="252.15" x2="990" y2="122.15"/>
<line x1="860" y1="261.6" x2="990" y2="131.6"/>
<line x1="860" y1="271.05" x2="990" y2="141.05"/>
<line x1="860" y1="280.5" x2="990" y2="150.5"/>
<line x1="860" y1="289.95" x2="990" y2="159.95"/>
<line x1="860" y1="299.4" x2="990" y2="169.4"/>
<line x1="860" y1="308.85" x2="990" y2="178.85"/>
<line x1="860" y1="318.3" x2="990" y2="188.3"/>
<line x1="860" y1="327.75" x2="990" y2="197.75"/>
<line x1="860" y1="337.2" x2="990" y2="207.2"/>
<line x1="860" y1="346.65" x2="990" y2="216.65"/>
<line x1="860" y1="356.1" x2="990" y2="226.1"/>
<line x1="860" y1="365.55" x2="990" y2="235.55"/>
<line x1="860" y1="375" x2="990" y2="245"/>
<line x1="860" y1="384.45" x2="990" y2="254.45"/>
<line x1="860" y1="393.9" x2="990" y2="263.9"/>
<line x1="860" y1="403.35" x2="990" y2="273.35"/>
<line x1="860" y1="412.8" x2="990" y2="282.8"/>
<line x1="860" y1="422.25" x2="990" y2="292.25"/>
<line x1="860" y1="431.7" x2="990" y2="301.7"/>
<line x1="860" y1="441.15" x2="990" y2="311.15"/>
<line x1="860" y1="450.6" x2="990" y2="320.6"/>
<line x1="860" y1="460.05" x2="990" y2="330.05"/>
<line x1="860" y1="469.5" x2="990" y2="339.5"/>
<line x1="860" y1="478.95" x2="990" y2="348.95"/>
<line x1="860" y1="488.4" x2="990" y2="358.4"/>
<line x1="860" y1="497.85" x2="990" y2="367.85"/>
<line x1="860" y1="507.3" x2="990" y2="377.3"/>
<line x1="860" y1="516.75" x2="990" y2="386.75"/>
<line x1="860" y1="526.2" x2="990" y2="396.2"/>
<line x1="860" y1="535.65" x2="990" y2="405.65"/>
<line x1="860" y1="545.1" x2="990" y2="415.1"/>
<line x1="860" y1="554.55" x2="990" y2="424.55"/>
<line x1="860" y1="564" x2="990" y2="434"/>
<line x1="860" y1="573.45" x2="990" y2="443.45"/>
<line x1="860" y1="582.9" x2="990" y2="452.9"/>
<line x1="860" y1="592.35" x2="990" y2="462.35"/>
<line x1="860" y1="601.8" x2="990" y2="471.8"/>
<line x1="860" y1="611.25" x2="990" y2="481.25"/>
<line x1="860" y1="620.7" x2="990" y2="490.7"/>
<line x1="860" y1="630.15" x2="990" y2="500.15"/>
<line x1="860" y1="639.6" x2="990" y2="509.6"/>
</g>
<g clip-path="url(#cp1)" stroke="#c050d0" stroke-width="0.9" shape-rendering="crispEdges">
<line x1="860" y1="-173.1" x2="990" y2="-303.1"/>
<line x1="860" y1="-163.65" x2="990" y2="-293.65"/>
<line x1="860" y1="-154.2" x2="990" y2="-284.2"/>
<line x1="860" y1="-144.75" x2="990" y2="-274.75"/>
<line x1="860" y1="-135.3" x2="990" y2="-265.3"/>
<line x1="860" y1="-125.85" x2="990" y2="-255.85"/>
<line x1="860" y1="-116.4" x2="990" y2="-246.4"/>
<line x1="860" y1="-106.95" x2="990" y2="-236.95"/>
<line x1="860" y1="-97.5" x2="990" y2="-227.5"/>
<line x1="860" y1="-88.05" x2="990" y2="-218.05"/>
<line x1="860" y1="-78.6" x2="990" y2="-208.6"/>
<line x1="860" y1="-69.15" x2="990" y2="-199.15"/>
<line x1="860" y1="-59.7" x2="990" y2="-189.7"/>
<line x1="860" y1="-50.25" x2="990" y2="-180.25"/>
<line x1="860" y1="-40.8" x2="990" y2="-170.8"/>
<line x1="860" y1="-31.35" x2="990" y2="-161.35"/>
<line x1="860" y1="-21.9" x2="990" y2="-151.9"/>
<line x1="860" y1="-12.45" x2="990" y2="-142.45"/>
<line x1="860" y1="-3" x2="990" y2="-133"/>
<line x1="860" y1="6.45" x2="990" y2="-123.55"/>
<line x1="860" y1="15.9" x2="990" y2="-114.1"/>
<line x1="860" y1="25.35" x2="990" y2="-104.65"/>
<line x1="860" y1="34.8" x2="990" y2="-95.2"/>
<line x1="860" y1="44.25" x2="990" y2="-85.75"/>
<line x1="860" y1="53.7" x2="990" y2="-76.3"/>
<line x1="860" y1="63.15" x2="990" y2="-66.85"/>
<line x1="860" y1="72.6" x2="990" y2="-57.4"/>
<line x1="860" y1="82.05" x2="990" y2="-47.95"/>
<line x1="860" y1="91.5" x2="990" y2="-38.5"/>
<line x1="860" y1="100.95" x2="990" y2="-29.05"/>
<line x1="860" y1="110.4" x2="990" y2="-19.6"/>
<line x1="860" y1="119.85" x2="990" y2="-10.15"/>
<line x1="860" y1="129.3" x2="990" y2="-0.7"/>
<line x1="860" y1="138.75" x2="990" y2="8.75"/>
<line x1="860" y1="148.2" x2="990" y2="18.2"/>
<line x1="860" y1="157.65" x2="990" y2="27.65"/>
<line x1="860" y1="167.1" x2="990" y2="37.1"/>
<line x1="860" y1="176.55" x2="990" y2="46.55"/>
<line x1="860" y1="186" x2="990" y2="56"/>
<line x1="860" y1="195.45" x2="990" y2="65.45"/>
<line x1="860" y1="204.9" x2="990" y2="74.9"/>
<line x1="860" y1="214.35" x2="990" y2="84.35"/>
<line x1="860" y1="223.8" x2="990" y2="93.8"/>
<line x1="860" y1="233.25" x2="990" y2="103.25"/>
<line x1="860" y1="242.7" x2="990" y2="112.7"/>
<line x1="860" y1="252.15" x2="990" y2="122.15"/>
<line x1="860" y1="261.6" x2="990" y2="131.6"/>
<line x1="860" y1="271.05" x2="990" y2="141.05"/>
<line x1="860" y1="280.5" x2="990" y2="150.5"/>
<line x1="860" y1="289.95" x2="990" y2="159.95"/>
<line x1="860" y1="299.4" x2="990" y2="169.4"/>
<line x1="860" y1="308.85" x2="990" y2="178.85"/>
<line x1="860" y1="318.3" x2="990" y2="188.3"/>
<line x1="860" y1="327.75" x2="990" y2="197.75"/>
<line x1="860" y1="337.2" x2="990" y2="207.2"/>
<line x1="860" y1="346.65" x2="990" y2="216.65"/>
<line x1="860" y1="356.1" x2="990" y2="226.1"/>
<line x1="860" y1="365.55" x2="990" y2="235.55"/>
<line x1="860" y1="375" x2="990" y2="245"/>
<line x1="860" y1="384.45" x2="990" y2="254.45"/>
<line x1="860" y1="393.9" x2="990" y2="263.9"/>
<line x1="860" y1="403.35" x2="990" y2="273.35"/>
<line x1="860" y1="412.8" x2="990" y2="282.8"/>
<line x1="860" y1="422.25" x2="990" y2="292.25"/>
<line x1="860" y1="431.7" x2="990" y2="301.7"/>
<line x1="860" y1="441.15" x2="990" y2="311.15"/>
<line x1="860" y1="450.6" x2="990" y2="320.6"/>
<line x1="860" y1="460.05" x2="990" y2="330.05"/>
<line x1="860" y1="469.5" x2="990" y2="339.5"/>
<line x1="860" y1="478.95" x2="990" y2="348.95"/>
<line x1="860" y1="488.4" x2="990" y2="358.4"/>
<line x1="860" y1="497.85" x2="990" y2="367.85"/>
<line x1="860" y1="507.3" x2="990" y2="377.3"/>
<line x1="860" y1="516.75" x2="990" y2="386.75"/>
<line x1="860" y1="526.2" x2="990" y2="396.2"/>
<line x1="860" y1="535.65" x2="990" y2="405.65"/>
<line x1="860" y1="545.1" x2="990" y2="415.1"/>
<line x1="860" y1="554.55" x2="990" y2="424.55"/>
<line x1="860" y1="564" x2="990" y2="434"/>
<line x1="860" y1="573.45" x2="990" y2="443.45"/>
<line x1="860" y1="582.9" x2="990" y2="452.9"/>
<line x1="860" y1="592.35" x2="990" y2="462.35"/>
<line x1="860" y1="601.8" x2="990" y2="471.8"/>
<line x1="860" y1="611.25" x2="990" y2="481.25"/>
<line x1="860" y1="620.7" x2="990" y2="490.7"/>
<line x1="860" y1="630.15" x2="990" y2="500.15"/>
<line x1="860" y1="639.6" x2="990" y2="509.6"/>
</g>
<g clip-path="url(#cp2)" stroke="#c050d0" stroke-width="0.9" shape-rendering="crispEdges">
<line x1="860" y1="-173.1" x2="990" y2="-303.1"/>
<line x1="860" y1="-163.65" x2="990" y2="-293.65"/>
<line x1="860" y1="-154.2" x2="990" y2="-284.2"/>
<line x1="860" y1="-144.75" x2="990" y2="-274.75"/>
<line x1="860" y1="-135.3" x2="990" y2="-265.3"/>
<line x1="860" y1="-125.85" x2="990" y2="-255.85"/>
<line x1="860" y1="-116.4" x2="990" y2="-246.4"/>
<line x1="860" y1="-106.95" x2="990" y2="-236.95"/>
<line x1="860" y1="-97.5" x2="990" y2="-227.5"/>
<line x1="860" y1="-88.05" x2="990" y2="-218.05"/>
<line x1="860" y1="-78.6" x2="990" y2="-208.6"/>
<line x1="860" y1="-69.15" x2="990" y2="-199.15"/>
<line x1="860" y1="-59.7" x2="990" y2="-189.7"/>
<line x1="860" y1="-50.25" x2="990" y2="-180.25"/>
<line x1="860" y1="-40.8" x2="990" y2="-170.8"/>
<line x1="860" y1="-31.35" x2="990" y2="-161.35"/>
<line x1="860" y1="-21.9" x2="990" y2="-151.9"/>
<line x1="860" y1="-12.45" x2="990" y2="-142.45"/>
<line x1="860" y1="-3" x2="990" y2="-133"/>
<line x1="860" y1="6.45" x2="990" y2="-123.55"/>
<line x1="860" y1="15.9" x2="990" y2="-114.1"/>
<line x1="860" y1="25.35" x2="990" y2="-104.65"/>
<line x1="860" y1="34.8" x2="990" y2="-95.2"/>
<line x1="860" y1="44.25" x2="990" y2="-85.75"/>
<line x1="860" y1="53.7" x2="990" y2="-76.3"/>
<line x1="860" y1="63.15" x2="990" y2="-66.85"/>
<line x1="860" y1="72.6" x2="990" y2="-57.4"/>
<line x1="860" y1="82.05" x2="990" y2="-47.95"/>
<line x1="860" y1="91.5" x2="990" y2="-38.5"/>
<line x1="860" y1="100.95" x2="990" y2="-29.05"/>
<line x1="860" y1="110.4" x2="990" y2="-19.6"/>
<line x1="860" y1="119.85" x2="990" y2="-10.15"/>
<line x1="860" y1="129.3" x2="990" y2="-0.7"/>
<line x1="860" y1="138.75" x2="990" y2="8.75"/>
<line x1="860" y1="148.2" x2="990" y2="18.2"/>
<line x1="860" y1="157.65" x2="990" y2="27.65"/>
<line x1="860" y1="167.1" x2="990" y2="37.1"/>
<line x1="860" y1="176.55" x2="990" y2="46.55"/>
<line x1="860" y1="186" x2="990" y2="56"/>
<line x1="860" y1="195.45" x2="990" y2="65.45"/>
<line x1="860" y1="204.9" x2="990" y2="74.9"/>
<line x1="860" y1="214.35" x2="990" y2="84.35"/>
<line x1="860" y1="223.8" x2="990" y2="93.8"/>
<line x1="860" y1="233.25" x2="990" y2="103.25"/>
<line x1="860" y1="242.7" x2="990" y2="112.7"/>
<line x1="860" y1="252.15" x2="990" y2="122.15"/>
<line x1="860" y1="261.6" x2="990" y2="131.6"/>
<line x1="860" y1="271.05" x2="990" y2="141.05"/>
<line x1="860" y1="280.5" x2="990" y2="150.5"/>
<line x1="860" y1="289.95" x2="990" y2="159.95"/>
<line x1="860" y1="299.4" x2="990" y2="169.4"/>
<line x1="860" y1="308.85" x2="990" y2="178.85"/>
<line x1="860" y1="318.3" x2="990" y2="188.3"/>
<line x1="860" y1="327.75" x2="990" y2="197.75"/>
<line x1="860" y1="337.2" x2="990" y2="207.2"/>
<line x1="860" y1="346.65" x2="990" y2="216.65"/>
<line x1="860" y1="356.1" x2="990" y2="226.1"/>
<line x1="860" y1="365.55" x2="990" y2="235.55"/>
<line x1="860" y1="375" x2="990" y2="245"/>
<line x1="860" y1="384.45" x2="990" y2="254.45"/>
<line x1="860" y1="393.9" x2="990" y2="263.9"/>
<line x1="860" y1="403.35" x2="990" y2="273.35"/>
<line x1="860" y1="412.8" x2="990" y2="282.8"/>
<line x1="860" y1="422.25" x2="990" y2="292.25"/>
<line x1="860" y1="431.7" x2="990" y2="301.7"/>
<line x1="860" y1="441.15" x2="990" y2="311.15"/>
<line x1="860" y1="450.6" x2="990" y2="320.6"/>
<line x1="860" y1="460.05" x2="990" y2="330.05"/>
<line x1="860" y1="469.5" x2="990" y2="339.5"/>
<line x1="860" y1="478.95" x2="990" y2="348.95"/>
<line x1="860" y1="488.4" x2="990" y2="358.4"/>
<line x1="860" y1="497.85" x2="990" y2="367.85"/>
<line x1="860" y1="507.3" x2="990" y2="377.3"/>
<line x1="860" y1="516.75" x2="990" y2="386.75"/>
<line x1="860" y1="526.2" x2="990" y2="396.2"/>
<line x1="860" y1="535.65" x2="990" y2="405.65"/>
<line x1="860" y1="545.1" x2="990" y2="415.1"/>
<line x1="860" y1="554.55" x2="990" y2="424.55"/>
<line x1="860" y1="564" x2="990" y2="434"/>
<line x1="860" y1="573.45" x2="990" y2="443.45"/>
<line x1="860" y1="582.9" x2="990" y2="452.9"/>
<line x1="860" y1="592.35" x2="990" y2="462.35"/>
<line x1="860" y1="601.8" x2="990" y2="471.8"/>
<line x1="860" y1="611.25" x2="990" y2="481.25"/>
<line x1="860" y1="620.7" x2="990" y2="490.7"/>
<line x1="860" y1="630.15" x2="990" y2="500.15"/>
<line x1="860" y1="639.6" x2="990" y2="509.6"/>
</g>
<g clip-path="url(#cp3)" stroke="#c050d0" stroke-width="0.9" shape-rendering="crispEdges">
<line x1="860" y1="-173.1" x2="990" y2="-303.1"/>
<line x1="860" y1="-163.65" x2="990" y2="-293.65"/>
<line x1="860" y1="-154.2" x2="990" y2="-284.2"/>
<line x1="860" y1="-144.75" x2="990" y2="-274.75"/>
<line x1="860" y1="-135.3" x2="990" y2="-265.3"/>
<line x1="860" y1="-125.85" x2="990" y2="-255.85"/>
<line x1="860" y1="-116.4" x2="990" y2="-246.4"/>
<line x1="860" y1="-106.95" x2="990" y2="-236.95"/>
<line x1="860" y1="-97.5" x2="990" y2="-227.5"/>
<line x1="860" y1="-88.05" x2="990" y2="-218.05"/>
<line x1="860" y1="-78.6" x2="990" y2="-208.6"/>
<line x1="860" y1="-69.15" x2="990" y2="-199.15"/>
<line x1="860" y1="-59.7" x2="990" y2="-189.7"/>
<line x1="860" y1="-50.25" x2="990" y2="-180.25"/>
<line x1="860" y1="-40.8" x2="990" y2="-170.8"/>
<line x1="860" y1="-31.35" x2="990" y2="-161.35"/>
<line x1="860" y1="-21.9" x2="990" y2="-151.9"/>
<line x1="860" y1="-12.45" x2="990" y2="-142.45"/>
<line x1="860" y1="-3" x2="990" y2="-133"/>
<line x1="860" y1="6.45" x2="990" y2="-123.55"/>
<line x1="860" y1="15.9" x2="990" y2="-114.1"/>
<line x1="860" y1="25.35" x2="990" y2="-104.65"/>
<line x1="860" y1="34.8" x2="990" y2="-95.2"/>
<line x1="860" y1="44.25" x2="990" y2="-85.75"/>
<line x1="860" y1="53.7" x2="990" y2="-76.3"/>
<line x1="860" y1="63.15" x2="990" y2="-66.85"/>
<line x1="860" y1="72.6" x2="990" y2="-57.4"/>
<line x1="860" y1="82.05" x2="990" y2="-47.95"/>
<line x1="860" y1="91.5" x2="990" y2="-38.5"/>
<line x1="860" y1="100.95" x2="990" y2="-29.05"/>
<line x1="860" y1="110.4" x2="990" y2="-19.6"/>
<line x1="860" y1="119.85" x2="990" y2="-10.15"/>
<line x1="860" y1="129.3" x2="990" y2="-0.7"/>
<line x1="860" y1="138.75" x2="990" y2="8.75"/>
<line x1="860" y1="148.2" x2="990" y2="18.2"/>
<line x1="860" y1="157.65" x2="990" y2="27.65"/>
<line x1="860" y1="167.1" x2="990" y2="37.1"/>
<line x1="860" y1="176.55" x2="990" y2="46.55"/>
<line x1="860" y1="186" x2="990" y2="56"/>
<line x1="860" y1="195.45" x2="990" y2="65.45"/>
<line x1="860" y1="204.9" x2="990" y2="74.9"/>
<line x1="860" y1="214.35" x2="990" y2="84.35"/>
<line x1="860" y1="223.8" x2="990" y2="93.8"/>
<line x1="860" y1="233.25" x2="990" y2="103.25"/>
<line x1="860" y1="242.7" x2="990" y2="112.7"/>
<line x1="860" y1="252.15" x2="990" y2="122.15"/>
<line x1="860" y1="261.6" x2="990" y2="131.6"/>
<line x1="860" y1="271.05" x2="990" y2="141.05"/>
<line x1="860" y1="280.5" x2="990" y2="150.5"/>
<line x1="860" y1="289.95" x2="990" y2="159.95"/>
<line x1="860" y1="299.4" x2="990" y2="169.4"/>
<line x1="860" y1="308.85" x2="990" y2="178.85"/>
<line x1="860" y1="318.3" x2="990" y2="188.3"/>
<line x1="860" y1="327.75" x2="990" y2="197.75"/>
<line x1="860" y1="337.2" x2="990" y2="207.2"/>
<line x1="860" y1="346.65" x2="990" y2="216.65"/>
<line x1="860" y1="356.1" x2="990" y2="226.1"/>
<line x1="860" y1="365.55" x2="990" y2="235.55"/>
<line x1="860" y1="375" x2="990" y2="245"/>
<line x1="860" y1="384.45" x2="990" y2="254.45"/>
<line x1="860" y1="393.9" x2="990" y2="263.9"/>
<line x1="860" y1="403.35" x2="990" y2="273.35"/>
<line x1="860" y1="412.8" x2="990" y2="282.8"/>
<line x1="860" y1="422.25" x2="990" y2="292.25"/>
<line x1="860" y1="431.7" x2="990" y2="301.7"/>
<line x1="860" y1="441.15" x2="990" y2="311.15"/>
<line x1="860" y1="450.6" x2="990" y2="320.6"/>
<line x1="860" y1="460.05" x2="990" y2="330.05"/>
<line x1="860" y1="469.5" x2="990" y2="339.5"/>
<line x1="860" y1="478.95" x2="990" y2="348.95"/>
<line x1="860" y1="488.4" x2="990" y2="358.4"/>
<line x1="860" y1="497.85" x2="990" y2="367.85"/>
<line x1="860" y1="507.3" x2="990" y2="377.3"/>
<line x1="860" y1="516.75" x2="990" y2="386.75"/>
<line x1="860" y1="526.2" x2="990" y2="396.2"/>
<line x1="860" y1="535.65" x2="990" y2="405.65"/>
<line x1="860" y1="545.1" x2="990" y2="415.1"/>
<line x1="860" y1="554.55" x2="990" y2="424.55"/>
<line x1="860" y1="564" x2="990" y2="434"/>
<line x1="860" y1="573.45" x2="990" y2="443.45"/>
<line x1="860" y1="582.9" x2="990" y2="452.9"/>
<line x1="860" y1="592.35" x2="990" y2="462.35"/>
<line x1="860" y1="601.8" x2="990" y2="471.8"/>
<line x1="860" y1="611.25" x2="990" y2="481.25"/>
<line x1="860" y1="620.7" x2="990" y2="490.7"/>
<line x1="860" y1="630.15" x2="990" y2="500.15"/>
<line x1="860" y1="639.6" x2="990" y2="509.6"/>
</g>
<path d="M873.5 89.5 L889.7 89.5 Q891.4 89.7 892.2 92.6 L894.4 96.6 Q896 100.5 899.6 100.5 L948.2 100.5 Q951.8 100.5 953.4 96.6 L955.6 92.6 Q956.4 89.7 958.1 89.5 L974.5 89.5 L974.5 117.5 L957.5 117.5 A18 23 0 0 0 939.5 140.5 L939.5 158.5 L907.5 158.5 L907.5 140.5 A18 23 0 0 0 889.5 117.5 L873.5 117.5 Z" fill="none" stroke="#ffffff" stroke-width="1"/>
<path d="M939.5 185.5 L907.5 185.5 Q906.6 196.5 903.7 203.2 L892.6 214.4 Q890.5 216.4 890.5 218.5 L890.5 222 Q890.3 225.5 887.4 225.5 L870.5 225.5 L870.5 248.5 L975.5 248.5 L977.5 247 L977.5 225.5 L959.8 225.5 Q956.7 225.5 956.5 222 L956.5 218.5 Q956.5 216.4 954.4 214.4 L943.3 203.2 Q940.4 196.5 939.5 185.5 Z" fill="none" stroke="#ffffff" stroke-width="1"/>
<path d="M939.5 388.5 L907.5 388.5 Q906.6 377.5 903.7 370.8 L892.6 359.6 Q890.5 357.6 890.5 355.5 L890.5 352 Q890.3 348.5 887.4 348.5 L870.5 348.5 L870.5 325.5 L975.5 325.5 L977.5 327 L977.5 348.5 L959.8 348.5 Q956.7 348.5 956.5 352 L956.5 355.5 Q956.5 357.6 954.4 359.6 L943.3 370.8 Q940.4 377.5 939.5 388.5 Z" fill="none" stroke="#ffffff" stroke-width="1"/>
<path d="M873.5 484.5 L889.7 484.5 Q891.4 484.3 892.2 481.4 L894.4 477.4 Q896 473.5 899.6 473.5 L948.2 473.5 Q951.8 473.5 953.4 477.4 L955.6 481.4 Q956.4 484.3 958.1 484.5 L974.5 484.5 L974.5 456.5 L957.5 456.5 A18 23 0 0 1 939.5 433.5 L939.5 414.5 L907.5 414.5 L907.5 433.5 A18 23 0 0 1 889.5 456.5 L873.5 456.5 Z" fill="none" stroke="#ffffff" stroke-width="1"/>
<g shape-rendering="crispEdges">
<line x1="873.5" y1="89.5" x2="873.5" y2="225.5" stroke="#ffffff" stroke-width="1"/>
<line x1="974.5" y1="89.5" x2="974.5" y2="225.5" stroke="#ffffff" stroke-width="1"/>
<line x1="873.5" y1="348.5" x2="873.5" y2="484.5" stroke="#ffffff" stroke-width="1"/>
<line x1="974.5" y1="348.5" x2="974.5" y2="484.5" stroke="#ffffff" stroke-width="1"/>
<line x1="907.5" y1="158.5" x2="907.5" y2="185.5" stroke="#ffffff" stroke-width="1"/>
<line x1="939.5" y1="158.5" x2="939.5" y2="185.5" stroke="#ffffff" stroke-width="1"/>
<line x1="907.5" y1="388.5" x2="907.5" y2="414.5" stroke="#ffffff" stroke-width="1"/>
<line x1="939.5" y1="388.5" x2="939.5" y2="414.5" stroke="#ffffff" stroke-width="1"/>
<line x1="907.5" y1="158.5" x2="939.5" y2="158.5" stroke="#ffffff" stroke-width="1"/>
<line x1="907.5" y1="185.5" x2="939.5" y2="185.5" stroke="#ffffff" stroke-width="1"/>
<line x1="907.5" y1="388.5" x2="939.5" y2="388.5" stroke="#ffffff" stroke-width="1"/>
<line x1="907.5" y1="414.5" x2="939.5" y2="414.5" stroke="#ffffff" stroke-width="1"/>
<line x1="870.5" y1="248.5" x2="870.5" y2="325.5" stroke="#ffffff" stroke-width="2"/>
<line x1="975.5" y1="248.5" x2="975.5" y2="325.5" stroke="#ffffff" stroke-width="1"/>
<line x1="977.5" y1="246.5" x2="977.5" y2="327.5" stroke="#ffffff" stroke-width="1"/>
<line x1="870.5" y1="277.5" x2="975.5" y2="277.5" stroke="#ffffff" stroke-width="1"/>
<line x1="870.5" y1="296.5" x2="975.5" y2="296.5" stroke="#ffffff" stroke-width="1"/>
<line x1="870.5" y1="248.5" x2="975.5" y2="248.5" stroke="#ffffff" stroke-width="1"/>
<line x1="870.5" y1="325.5" x2="975.5" y2="325.5" stroke="#ffffff" stroke-width="1"/>
<line x1="923.5" y1="88" x2="923.5" y2="168.5" stroke="#b83232" stroke-width="1"/>
<line x1="923.5" y1="185" x2="923.5" y2="275.5" stroke="#b83232" stroke-width="1"/>
<line x1="923.5" y1="290" x2="923.5" y2="307" stroke="#b83232" stroke-width="1"/>
<line x1="923.5" y1="320.5" x2="923.5" y2="448.5" stroke="#b83232" stroke-width="1"/>
<line x1="923.5" y1="458" x2="923.5" y2="509" stroke="#b83232" stroke-width="1"/>
<line x1="902" y1="172.5" x2="944" y2="172.5" stroke="#b83232" stroke-width="1"/>
<line x1="902" y1="401.5" x2="944" y2="401.5" stroke="#b83232" stroke-width="1"/>
<line x1="845.5" y1="286.5" x2="899" y2="286.5" stroke="#b83232" stroke-width="1"/>
<line x1="914" y1="286.5" x2="930" y2="286.5" stroke="#b83232" stroke-width="1"/>
<line x1="944" y1="286.5" x2="1001.5" y2="286.5" stroke="#b83232" stroke-width="1"/>
</g>
<g shape-rendering="crispEdges">
<line x1="873.5" y1="38" x2="873.5" y2="89.5" stroke="#5fe8e8" stroke-width="1"/>
<line x1="974.5" y1="38" x2="974.5" y2="89.5" stroke="#5fe8e8" stroke-width="1"/>
<line x1="873.5" y1="41.5" x2="974.5" y2="41.5" stroke="#5fe8e8" stroke-width="1"/>
<line x1="891.5" y1="54" x2="891.5" y2="89.5" stroke="#5fe8e8" stroke-width="1"/>
<line x1="955.5" y1="54" x2="955.5" y2="89.5" stroke="#5fe8e8" stroke-width="1"/>
<line x1="891.5" y1="57.5" x2="955.5" y2="57.5" stroke="#5fe8e8" stroke-width="1"/>
<line x1="894.5" y1="67" x2="894.5" y2="89" stroke="#5fe8e8" stroke-width="1"/>
<line x1="953.5" y1="67" x2="953.5" y2="90" stroke="#5fe8e8" stroke-width="1"/>
<line x1="894.5" y1="70.5" x2="953.5" y2="70.5" stroke="#5fe8e8" stroke-width="1"/>
<line x1="870.5" y1="148" x2="870.5" y2="225.5" stroke="#5fe8e8" stroke-width="1"/>
<line x1="977.5" y1="148" x2="977.5" y2="225.5" stroke="#5fe8e8" stroke-width="1"/>
<line x1="870.5" y1="151.5" x2="977.5" y2="151.5" stroke="#5fe8e8" stroke-width="1"/>
<line x1="890.5" y1="203.5" x2="956.5" y2="203.5" stroke="#5fe8e8" stroke-width="1"/>
<line x1="890.5" y1="203.5" x2="890.5" y2="221" stroke="#5fe8e8" stroke-width="1"/>
<line x1="956.5" y1="203.5" x2="956.5" y2="221" stroke="#5fe8e8" stroke-width="1"/>
<line x1="907.5" y1="431.5" x2="939.5" y2="431.5" stroke="#5fe8e8" stroke-width="1"/>
<line x1="974.5" y1="89.5" x2="1063" y2="89.5" stroke="#5fe8e8" stroke-width="1"/>
<line x1="974.5" y1="483.5" x2="1063" y2="483.5" stroke="#5fe8e8" stroke-width="1"/>
<line x1="1059.5" y1="89.5" x2="1059.5" y2="483.5" stroke="#5fe8e8" stroke-width="1"/>
<line x1="948" y1="100.5" x2="1031" y2="100.5" stroke="#5fe8e8" stroke-width="1"/>
<line x1="950" y1="473.5" x2="1031" y2="473.5" stroke="#5fe8e8" stroke-width="1"/>
<line x1="1028.5" y1="100.5" x2="1028.5" y2="473.5" stroke="#5fe8e8" stroke-width="1"/>
<line x1="974.5" y1="117.5" x2="1011" y2="117.5" stroke="#5fe8e8" stroke-width="1"/>
<line x1="974.5" y1="456.5" x2="1011" y2="456.5" stroke="#5fe8e8" stroke-width="1"/>
<line x1="1007.5" y1="117.5" x2="1007.5" y2="456.5" stroke="#5fe8e8" stroke-width="1"/>
<line x1="785" y1="216.5" x2="890.5" y2="216.5" stroke="#5fe8e8" stroke-width="1"/>
<line x1="785" y1="357.5" x2="890.5" y2="357.5" stroke="#5fe8e8" stroke-width="1"/>
<line x1="789.5" y1="216.5" x2="789.5" y2="357.5" stroke="#5fe8e8" stroke-width="1"/>
<line x1="810.5" y1="225.5" x2="870.5" y2="225.5" stroke="#5fe8e8" stroke-width="1"/>
<line x1="810.5" y1="348.5" x2="870.5" y2="348.5" stroke="#5fe8e8" stroke-width="1"/>
<line x1="814.5" y1="225.5" x2="814.5" y2="348.5" stroke="#5fe8e8" stroke-width="1"/>
<line x1="842.5" y1="248.5" x2="870.5" y2="248.5" stroke="#5fe8e8" stroke-width="1"/>
<line x1="842.5" y1="325" x2="870.5" y2="325" stroke="#5fe8e8" stroke-width="1"/>
<line x1="845.5" y1="248.5" x2="845.5" y2="325.5" stroke="#5fe8e8" stroke-width="1"/>
<line x1="870.5" y1="225.5" x2="870.5" y2="248.5" stroke="#5fe8e8" stroke-width="1"/>
<line x1="870.5" y1="325.5" x2="870.5" y2="348.5" stroke="#5fe8e8" stroke-width="1"/>
<line x1="977.5" y1="225.5" x2="977.5" y2="251" stroke="#5fe8e8" stroke-width="1"/>
<line x1="986" y1="236.5" x2="1012" y2="236.5" stroke="#5fe8e8" stroke-width="1"/>
<line x1="836" y1="337.5" x2="860" y2="337.5" stroke="#5fe8e8" stroke-width="1"/>
</g>
<line x1="977.5" y1="226" x2="986.5" y2="236.5" stroke="#5fe8e8" stroke-width="1"/>
<line x1="977.5" y1="247.5" x2="986.5" y2="236.5" stroke="#5fe8e8" stroke-width="1"/>
<line x1="860" y1="337.5" x2="870.5" y2="326" stroke="#5fe8e8" stroke-width="1"/>
<line x1="860" y1="337.5" x2="870.5" y2="348" stroke="#5fe8e8" stroke-width="1"/>
<polygon points="873.5,41.5 877.1,40.05 877.1,42.95" fill="#5fe8e8" stroke="#5fe8e8" stroke-width="0.6"/>
<polygon points="974.5,41.5 970.9,42.95 970.9,40.05" fill="#5fe8e8" stroke="#5fe8e8" stroke-width="0.6"/>
<polygon points="891.5,57.5 895.1,56.05 895.1,58.95" fill="#5fe8e8" stroke="#5fe8e8" stroke-width="0.6"/>
<polygon points="955.5,57.5 951.9,58.95 951.9,56.05" fill="#5fe8e8" stroke="#5fe8e8" stroke-width="0.6"/>
<polygon points="894.5,70.5 898.1,69.05 898.1,71.95" fill="#5fe8e8" stroke="#5fe8e8" stroke-width="0.6"/>
<polygon points="953.5,70.5 949.9,71.95 949.9,69.05" fill="#5fe8e8" stroke="#5fe8e8" stroke-width="0.6"/>
<polygon points="870.5,151.5 874.1,150.05 874.1,152.95" fill="#5fe8e8" stroke="#5fe8e8" stroke-width="0.6"/>
<polygon points="977.5,151.5 973.9,152.95 973.9,150.05" fill="#5fe8e8" stroke="#5fe8e8" stroke-width="0.6"/>
<polygon points="890.5,203.5 894.1,202.05 894.1,204.95" fill="#5fe8e8" stroke="#5fe8e8" stroke-width="0.6"/>
<polygon points="956.5,203.5 952.9,204.95 952.9,202.05" fill="#5fe8e8" stroke="#5fe8e8" stroke-width="0.6"/>
<polygon points="907.5,431.5 911.1,430.05 911.1,432.95" fill="#5fe8e8" stroke="#5fe8e8" stroke-width="0.6"/>
<polygon points="939.5,431.5 935.9,432.95 935.9,430.05" fill="#5fe8e8" stroke="#5fe8e8" stroke-width="0.6"/>
<polygon points="1059.5,89.5 1060.95,93.1 1058.05,93.1" fill="#5fe8e8" stroke="#5fe8e8" stroke-width="0.6"/>
<polygon points="1059.5,483.5 1058.05,479.9 1060.95,479.9" fill="#5fe8e8" stroke="#5fe8e8" stroke-width="0.6"/>
<polygon points="1028.5,100.5 1029.95,104.1 1027.05,104.1" fill="#5fe8e8" stroke="#5fe8e8" stroke-width="0.6"/>
<polygon points="1028.5,473.5 1027.05,469.9 1029.95,469.9" fill="#5fe8e8" stroke="#5fe8e8" stroke-width="0.6"/>
<polygon points="1007.5,117.5 1008.95,121.1 1006.05,121.1" fill="#5fe8e8" stroke="#5fe8e8" stroke-width="0.6"/>
<polygon points="1007.5,456.5 1006.05,452.9 1008.95,452.9" fill="#5fe8e8" stroke="#5fe8e8" stroke-width="0.6"/>
<polygon points="789.5,216.5 790.95,220.1 788.05,220.1" fill="#5fe8e8" stroke="#5fe8e8" stroke-width="0.6"/>
<polygon points="789.5,357.5 788.05,353.9 790.95,353.9" fill="#5fe8e8" stroke="#5fe8e8" stroke-width="0.6"/>
<polygon points="814.5,225.5 815.95,229.1 813.05,229.1" fill="#5fe8e8" stroke="#5fe8e8" stroke-width="0.6"/>
<polygon points="814.5,348.5 813.05,344.9 815.95,344.9" fill="#5fe8e8" stroke="#5fe8e8" stroke-width="0.6"/>
<polygon points="845.5,248.5 846.95,252.1 844.05,252.1" fill="#5fe8e8" stroke="#5fe8e8" stroke-width="0.6"/>
<polygon points="845.5,325.5 844.05,321.9 846.95,321.9" fill="#5fe8e8" stroke="#5fe8e8" stroke-width="0.6"/>
<text transform="translate(923.5 39) rotate(0) scale(0.66 1)" font-size="12.4" fill="#58f6f6" stroke="#58f6f6" stroke-width="0.3" text-anchor="middle" font-weight="normal">190</text>
<text transform="translate(923.5 55) rotate(0) scale(0.66 1)" font-size="12.4" fill="#58f6f6" stroke="#58f6f6" stroke-width="0.3" text-anchor="middle" font-weight="normal">120</text>
<text transform="translate(923.5 68) rotate(0) scale(0.66 1)" font-size="12.4" fill="#58f6f6" stroke="#58f6f6" stroke-width="0.3" text-anchor="middle" font-weight="normal">110</text>
<text transform="translate(923.5 149) rotate(0) scale(0.66 1)" font-size="12.4" fill="#58f6f6" stroke="#58f6f6" stroke-width="0.3" text-anchor="middle" font-weight="normal">200</text>
<text transform="translate(923.5 201) rotate(0) scale(0.66 1)" font-size="12.4" fill="#58f6f6" stroke="#58f6f6" stroke-width="0.3" text-anchor="middle" font-weight="normal">125</text>
<text transform="translate(923.5 429.8) rotate(0) scale(0.68 1)" font-size="12.4" fill="#58f6f6" stroke="#58f6f6" stroke-width="0.3" text-anchor="middle" font-weight="normal">60</text>
<text transform="translate(1005.6 287) rotate(-90) scale(0.66 1)" font-size="13.2" fill="#58f6f6" stroke="#58f6f6" stroke-width="0.3" text-anchor="middle" font-weight="normal">Ø635</text>
<text transform="translate(1027.3 286) rotate(-90) scale(0.66 1)" font-size="13.2" fill="#58f6f6" stroke="#58f6f6" stroke-width="0.3" text-anchor="middle" font-weight="normal">Ø700</text>
<text transform="translate(1019.8 269.2) rotate(-90) scale(0.85 1)" font-size="6.4" fill="#58f6f6" stroke="#58f6f6" stroke-width="0.3" text-anchor="middle" font-weight="bold">+0.2</text>
<text transform="translate(1057.3 287) rotate(-90) scale(0.66 1)" font-size="13.2" fill="#58f6f6" stroke="#58f6f6" stroke-width="0.3" text-anchor="middle" font-weight="normal">Ø750</text>
<text transform="translate(787.5 286.5) rotate(-90) scale(0.66 1)" font-size="13.2" fill="#58f6f6" stroke="#58f6f6" stroke-width="0.3" text-anchor="middle" font-weight="normal">Ø365</text>
<text transform="translate(812.3 284.8) rotate(-90) scale(0.62 1)" font-size="12.4" fill="#58f6f6" stroke="#58f6f6" stroke-width="0.3" text-anchor="middle" font-weight="normal">Ø230F9(</text>
<text transform="translate(804.6 260) rotate(-90) scale(0.85 1)" font-size="5.6" fill="#58f6f6" stroke="#58f6f6" stroke-width="0.3" text-anchor="middle" font-weight="bold">+0.172</text>
<text transform="translate(811.4 260) rotate(-90) scale(0.85 1)" font-size="5.6" fill="#58f6f6" stroke="#58f6f6" stroke-width="0.3" text-anchor="middle" font-weight="bold">+0.050</text>
<line x1="803.3" y1="247.5" x2="808.6" y2="247.5" stroke="#5fe8e8" stroke-width="1"/>
<text transform="translate(844 299.5) rotate(-90) scale(0.62 1)" font-size="12.4" fill="#58f6f6" stroke="#58f6f6" stroke-width="0.3" text-anchor="middle" font-weight="normal">Ø145H7(</text>
<text transform="translate(835.2 271.5) rotate(-90) scale(0.85 1)" font-size="5.6" fill="#58f6f6" stroke="#58f6f6" stroke-width="0.3" text-anchor="middle" font-weight="bold">+0.035</text>
<line x1="838" y1="276.8" x2="841.6" y2="276.8" stroke="#5fe8e8" stroke-width="1.6"/>
<line x1="834.5" y1="259.5" x2="839.8" y2="259.5" stroke="#5fe8e8" stroke-width="1"/>
<text transform="translate(998.5 235.3) rotate(0) scale(0.74 1)" font-size="12.2" fill="#58f6f6" stroke="#58f6f6" stroke-width="0.3" text-anchor="middle" font-weight="normal">2X45°</text>
<text transform="translate(847.8 336) rotate(0) scale(0.74 1)" font-size="12.2" fill="#58f6f6" stroke="#58f6f6" stroke-width="0.3" text-anchor="middle" font-weight="normal">2X45°</text>
<line x1="855" y1="76.6" x2="872.8" y2="89.2" stroke="#5fe8e8" stroke-width="1"/>
<polygon points="872.8,89.2 869.45,88.05 870.6,86.42" fill="#5fe8e8" stroke="#5fe8e8" stroke-width="0.6"/>
<text transform="translate(864.55 78.21) rotate(35.29) scale(0.66 1)" font-size="11.6" fill="#58f6f6" stroke="#58f6f6" stroke-width="0.3" text-anchor="middle" font-weight="normal">R3</text>
<line x1="991" y1="75.8" x2="975" y2="89.2" stroke="#5fe8e8" stroke-width="1"/>
<polygon points="975,89.2 976.96,86.25 978.25,87.78" fill="#5fe8e8" stroke="#5fe8e8" stroke-width="0.6"/>
<text transform="translate(982.1 78.82) rotate(-39.95) scale(0.66 1)" font-size="11.6" fill="#58f6f6" stroke="#58f6f6" stroke-width="0.3" text-anchor="middle" font-weight="normal">R3</text>
<line x1="907.8" y1="73" x2="893.2" y2="88" stroke="#5fe8e8" stroke-width="1"/>
<polygon points="893.2,88 894.85,84.87 896.29,86.26" fill="#5fe8e8" stroke="#5fe8e8" stroke-width="0.6"/>
<text transform="translate(899.64 79.66) rotate(-45.77) scale(0.66 1)" font-size="10" fill="#58f6f6" stroke="#58f6f6" stroke-width="0.3" text-anchor="middle" font-weight="normal">R3</text>
<line x1="919.8" y1="84.2" x2="897.3" y2="98.6" stroke="#5fe8e8" stroke-width="1"/>
<polygon points="897.3,98.6 899.62,95.92 900.7,97.61" fill="#5fe8e8" stroke="#5fe8e8" stroke-width="0.6"/>
<text transform="translate(909.54 88.98) rotate(-32.62) scale(0.66 1)" font-size="11.6" fill="#58f6f6" stroke="#58f6f6" stroke-width="0.3" text-anchor="middle" font-weight="normal">R15</text>
<line x1="926.1" y1="92.5" x2="951.3" y2="97.1" stroke="#5fe8e8" stroke-width="1"/>
<polygon points="951.3,97.1 947.78,97.47 948.13,95.51" fill="#5fe8e8" stroke="#5fe8e8" stroke-width="0.6"/>
<text transform="translate(936.95 92.96) rotate(10.34) scale(0.66 1)" font-size="11.6" fill="#58f6f6" stroke="#58f6f6" stroke-width="0.3" text-anchor="middle" font-weight="normal">R15</text>
<line x1="939.5" y1="80.5" x2="957.5" y2="92.5" stroke="#5fe8e8" stroke-width="1"/>
<polygon points="957.5,92.5 954.12,91.45 955.23,89.78" fill="#5fe8e8" stroke="#5fe8e8" stroke-width="0.6"/>
<text transform="translate(945.45 83.27) rotate(33.69) scale(0.66 1)" font-size="11" fill="#58f6f6" stroke="#58f6f6" stroke-width="0.3" text-anchor="middle" font-weight="normal">R5</text>
<line x1="883.3" y1="143.7" x2="906.2" y2="126.6" stroke="#5fe8e8" stroke-width="1"/>
<polygon points="906.2,126.6 904.07,129.44 902.88,127.83" fill="#5fe8e8" stroke="#5fe8e8" stroke-width="0.6"/>
<text transform="translate(892.02 135.32) rotate(-36.75) scale(0.66 1)" font-size="11.6" fill="#58f6f6" stroke="#58f6f6" stroke-width="0.3" text-anchor="middle" font-weight="normal">R40</text>
<line x1="966.5" y1="142.5" x2="944" y2="127" stroke="#5fe8e8" stroke-width="1"/>
<polygon points="944,127 947.37,128.11 946.23,129.75" fill="#5fe8e8" stroke="#5fe8e8" stroke-width="0.6"/>
<text transform="translate(957.23 134.29) rotate(34.56) scale(0.66 1)" font-size="11.6" fill="#58f6f6" stroke="#58f6f6" stroke-width="0.3" text-anchor="middle" font-weight="normal">R40</text>
<line x1="876.6" y1="187.3" x2="899.6" y2="206.6" stroke="#5fe8e8" stroke-width="1"/>
<polygon points="899.6,206.6 896.35,205.18 897.64,203.65" fill="#5fe8e8" stroke="#5fe8e8" stroke-width="0.6"/>
<text transform="translate(889.06 195.8) rotate(40) scale(0.66 1)" font-size="11.6" fill="#58f6f6" stroke="#58f6f6" stroke-width="0.3" text-anchor="middle" font-weight="normal">R60</text>
<line x1="972.6" y1="187.6" x2="948.4" y2="206.6" stroke="#5fe8e8" stroke-width="1"/>
<polygon points="948.4,206.6 950.46,203.71 951.69,205.29" fill="#5fe8e8" stroke="#5fe8e8" stroke-width="0.6"/>
<text transform="translate(959.57 195.92) rotate(-38.14) scale(0.66 1)" font-size="11.6" fill="#58f6f6" stroke="#58f6f6" stroke-width="0.3" text-anchor="middle" font-weight="normal">R60</text>
<line x1="869.1" y1="212.3" x2="888.1" y2="224.2" stroke="#5fe8e8" stroke-width="1"/>
<polygon points="888.1,224.2 884.69,223.24 885.75,221.55" fill="#5fe8e8" stroke="#5fe8e8" stroke-width="0.6"/>
<text transform="translate(880.72 214.86) rotate(32.06) scale(0.66 1)" font-size="11.6" fill="#58f6f6" stroke="#58f6f6" stroke-width="0.3" text-anchor="middle" font-weight="normal">R5</text>
<line x1="976.9" y1="212.7" x2="959.3" y2="224.2" stroke="#5fe8e8" stroke-width="1"/>
<polygon points="959.3,224.2 961.6,221.5 962.69,223.18" fill="#5fe8e8" stroke="#5fe8e8" stroke-width="0.6"/>
<text transform="translate(967.28 217.19) rotate(-33.16) scale(0.66 1)" font-size="11.6" fill="#58f6f6" stroke="#58f6f6" stroke-width="0.3" text-anchor="middle" font-weight="normal">R5</text>
<polyline points="1081.7,39.2 1095.3,39.2" fill="none" stroke="#b83232" stroke-width="1" stroke-linejoin="round"/>
<polyline points="1081.7,39.2 1088.5,50.8 1101.75,28.2" fill="none" stroke="#b83232" stroke-width="1" stroke-linejoin="round"/>
<text transform="translate(1089.5 37.9) rotate(0) scale(0.72 1)" font-size="12.4" fill="#ffffff" stroke="#ffffff" stroke-width="0.3" text-anchor="middle" font-weight="normal">25</text>
<polyline points="816.2,215.7 829.6,215.7" fill="none" stroke="#b83232" stroke-width="1" stroke-linejoin="round"/>
<polyline points="816.2,215.7 822.9,225.3 838.67,202.7" fill="none" stroke="#b83232" stroke-width="1" stroke-linejoin="round"/>
<text transform="translate(823.5 213.9) rotate(0) scale(0.76 1)" font-size="12.2" fill="#ffffff" stroke="#ffffff" stroke-width="0.3" text-anchor="middle" font-weight="normal">3.2</text>
<polyline points="851.4,314.8 865,314.8" fill="none" stroke="#b83232" stroke-width="1" stroke-linejoin="round"/>
<polyline points="851.4,314.8 858.2,324.7 872.21,304.3" fill="none" stroke="#b83232" stroke-width="1" stroke-linejoin="round"/>
<text transform="translate(859 313) rotate(0) scale(0.76 1)" font-size="12.2" fill="#ffffff" stroke="#ffffff" stroke-width="0.3" text-anchor="middle" font-weight="normal">3.2</text>
<polyline points="996.3,89.8 1009.1,89.8" fill="none" stroke="#b83232" stroke-width="1" stroke-linejoin="round"/>
<polyline points="996.3,89.8 1002.7,100.3 1016.66,77.4" fill="none" stroke="#b83232" stroke-width="1" stroke-linejoin="round"/>
<text transform="translate(1001.7 88.2) rotate(0) scale(0.7 1)" font-size="12.2" fill="#ffffff" stroke="#ffffff" stroke-width="0.3" text-anchor="middle" font-weight="normal">12.5</text>
<polyline points="860.3,200.1 860.3,187.3" fill="none" stroke="#b83232" stroke-width="1" stroke-linejoin="round"/>
<polyline points="860.3,200.1 870.3,193.7 846.8,178.66" fill="none" stroke="#b83232" stroke-width="1" stroke-linejoin="round"/>
<text transform="translate(858.5 194.3) rotate(-90) scale(0.69 1)" font-size="12.6" fill="#ffffff" stroke="#ffffff" stroke-width="0.3" text-anchor="middle" font-weight="normal">12.5</text>
<polyline points="988.7,189.7 988.7,200.3" fill="none" stroke="#b83232" stroke-width="1" stroke-linejoin="round"/>
<polyline points="988.7,189.7 977.5,195 1000.1,205.69" fill="none" stroke="#b83232" stroke-width="1" stroke-linejoin="round"/>
<text transform="translate(990.2 195) rotate(90) scale(0.66 1)" font-size="11.5" fill="#ffffff" stroke="#ffffff" stroke-width="0.3" text-anchor="middle" font-weight="normal"></text>
<text transform="translate(998.4 194.6) rotate(-90) scale(0.69 1)" font-size="12.6" fill="#ffffff" stroke="#ffffff" stroke-width="0.3" text-anchor="middle" font-weight="normal">12.5</text>
<polyline points="884.8,373.2 906.2,386.8 897.2,393.5" fill="none" stroke="#b83232" stroke-width="1" stroke-linejoin="round"/>
<circle cx="899.6" cy="386.6" r="2.9" fill="none" stroke="#b83232" stroke-width="1.1" shape-rendering="geometricPrecision"/>
<polyline points="962.6,399.2 940.5,386.3 950.2,380" fill="none" stroke="#b83232" stroke-width="1" stroke-linejoin="round"/>
<circle cx="946.9" cy="386.6" r="2.9" fill="none" stroke="#b83232" stroke-width="1.1" shape-rendering="geometricPrecision"/>
<path transform="translate(507.4 546) scale(0.94 1.13)" d="M0 4H4.2 M2.2 0V13.2L1 12.4 M0 10.2L4.4 8 M5 3H10 M7.5 0V6 M5.2 6H9.6 M9.4 6L5 14 M5.6 7.2L10 14" fill="none" stroke="#5fe8e8" stroke-width="1" vector-effect="non-scaling-stroke"/>
<path transform="translate(518.1 546) scale(0.94 1.13)" d="M0 4.2H10 M5 0V14 M5 5L0 12.2 M5 5L10 12.2 M7.4 0.8L8.6 2.6" fill="none" stroke="#5fe8e8" stroke-width="1" vector-effect="non-scaling-stroke"/>
<path transform="translate(528.8 546) scale(0.94 1.13)" d="M0 1H10 M1 3.2H9V6.2H1Z M3.7 1V6.2 M6.3 1V6.2 M4.2 7L2.2 11L8.2 14 M7.2 7L1.8 14 M0 9.2H10" fill="none" stroke="#5fe8e8" stroke-width="1" vector-effect="non-scaling-stroke"/>
<path transform="translate(539.5 546) scale(0.94 1.13)" d="M0 3.2H10 M5 0V13.4L3.8 12.4 M7.4 0.4L8.6 2 M1 6L2.6 7.6 M0 12L4.2 9 M9.2 5L6.2 8.2L10 13.2" fill="none" stroke="#5fe8e8" stroke-width="1" vector-effect="non-scaling-stroke"/>
<text transform="translate(472.6 581.8) rotate(0) scale(0.72 1)" font-size="10.6" fill="#58f6f6" stroke="#58f6f6" stroke-width="0.3" text-anchor="start" font-weight="normal">1.</text>
<path transform="translate(479.6 574.6) scale(0.92 1.17)" d="M0.3 0.3h4.4v5.4h-4.4z M1.3 1.8h2.4 M1.3 3.4h2.4 M2.5 1.8v2.6" stroke="#5fe8e8" stroke-width="1.45" fill="none" vector-effect="non-scaling-stroke" shape-rendering="auto"/>
<path transform="translate(484.9 574.6) scale(0.92 1.17)" d="M1.2 0l-1.2 2 M1.2 0.6h1.6 M0.8 1.4v4.6 M2.4 1.6h2.6 M3.7 0v6 M2.4 3.6h2.6" stroke="#5fe8e8" stroke-width="1.45" fill="none" vector-effect="non-scaling-stroke" shape-rendering="auto"/>
<path transform="translate(490.2 574.6) scale(0.92 1.17)" d="M0 1.6h2.4 M1.2 0v6 M1.2 2l-1.2 2.4 M1.2 2l1.2 1.8 M3 0.8h2 M2.8 2.6h2.2 M4 2.6v3.4 M3 4l-0.4 1.4 M5 4l0.2 1.4" stroke="#5fe8e8" stroke-width="1.45" fill="none" vector-effect="non-scaling-stroke" shape-rendering="auto"/>
<path transform="translate(495.5 574.6) scale(0.92 1.17)" d="M0 1h5 M2.5 0v2.4 M0.6 2.4h3.8 M4.4 2.4l-4.4 3.6 M1 3l4 3 M0 4.2h5" stroke="#5fe8e8" stroke-width="1.45" fill="none" vector-effect="non-scaling-stroke" shape-rendering="auto"/>
<path transform="translate(500.8 574.6) scale(0.92 1.17)" d="M2.5 0v1 M0 1.2h5 M0 1.2v1 M5 1.2v1 M0.8 2.6h3.4v2h-3.4z M2.5 2v4" stroke="#5fe8e8" stroke-width="1.45" fill="none" vector-effect="non-scaling-stroke" shape-rendering="auto"/>
<path transform="translate(506.1 574.6) scale(0.92 1.17)" d="M0.3 0.8l1 0.8 M0.8 2.5v3l0.8 -0.6 M2 2.2h3 M3.6 0v6" stroke="#5fe8e8" stroke-width="1.45" fill="none" vector-effect="non-scaling-stroke" shape-rendering="auto"/>
<text transform="translate(513.2 581.8) rotate(0) scale(0.83 1)" font-size="10.6" fill="#58f6f6" stroke="#58f6f6" stroke-width="0.3" text-anchor="start" font-weight="normal">HB363~401.</text>
<text transform="translate(472.6 595.8) rotate(0) scale(0.72 1)" font-size="10.6" fill="#58f6f6" stroke="#58f6f6" stroke-width="0.3" text-anchor="start" font-weight="normal">2.</text>
<path transform="translate(480.6 588.6) scale(0.92 1.17)" d="M0.5 0.5v5.5 M0 2h1.5 M2 1h3 M3.5 0v2.5 M2 2.8h3 M2 6l3 -3 M2.3 3.2l2.7 2.8" stroke="#5fe8e8" stroke-width="1.45" fill="none" vector-effect="non-scaling-stroke" shape-rendering="auto"/>
<path transform="translate(485.9 588.6) scale(0.92 1.17)" d="M0.3 0.3h4.4v5.4h-4.4z M1.3 1.8h2.4 M1.3 3.4h2.4 M2.5 1.8v2.6" stroke="#5fe8e8" stroke-width="1.45" fill="none" vector-effect="non-scaling-stroke" shape-rendering="auto"/>
<path transform="translate(491.2 588.6) scale(0.92 1.17)" d="M1.2 0l-1.2 2 M1.2 0.6h1.6 M0.8 1.4v4.6 M2.4 1.6h2.6 M3.7 0v6 M2.4 3.6h2.6" stroke="#5fe8e8" stroke-width="1.45" fill="none" vector-effect="non-scaling-stroke" shape-rendering="auto"/>
<text transform="translate(496.2 595.8) rotate(0) scale(0.67 1)" font-size="10.6" fill="#58f6f6" stroke="#58f6f6" stroke-width="0.3" text-anchor="start" font-weight="normal">10mm</text>
<path transform="translate(515.6 588.6) scale(0.92 1.17)" d="M0 1.6h2.4 M1.2 0v6 M1.2 2l-1.2 2.4 M1.2 2l1.2 1.8 M3 0.8h2 M2.8 2.6h2.2 M4 2.6v3.4 M3 4l-0.4 1.4 M5 4l0.2 1.4" stroke="#5fe8e8" stroke-width="1.45" fill="none" vector-effect="non-scaling-stroke" shape-rendering="auto"/>
<path transform="translate(520.9 588.6) scale(0.92 1.17)" d="M0 1h5 M2.5 0v2.4 M0.6 2.4h3.8 M4.4 2.4l-4.4 3.6 M1 3l4 3 M0 4.2h5" stroke="#5fe8e8" stroke-width="1.45" fill="none" vector-effect="non-scaling-stroke" shape-rendering="auto"/>
<path transform="translate(526.2 588.6) scale(0.92 1.17)" d="M2.5 0v1 M0 1.2h5 M0 1.2v1 M5 1.2v1 M0.8 2.6h3.4v2h-3.4z M2.5 2v4" stroke="#5fe8e8" stroke-width="1.45" fill="none" vector-effect="non-scaling-stroke" shape-rendering="auto"/>
<text transform="translate(531.4 595.8) rotate(0) scale(0.83 1)" font-size="10.6" fill="#58f6f6" stroke="#58f6f6" stroke-width="0.3" text-anchor="start" font-weight="normal">HB269</text>
<path transform="translate(559.4 588.6) scale(0.96 1.17)" d="M0.3 0.8l1 0.8 M0.8 2.5v3l0.8 -0.6 M2 2.2h3 M3.6 0v6" stroke="#5fe8e8" stroke-width="1.45" fill="none" vector-effect="non-scaling-stroke" shape-rendering="auto"/>
<path transform="translate(565.1 588.6) scale(0.96 1.17)" d="M0.5 0.5v5.5 M0 2h1.5 M2 1h3 M3.5 0v2.5 M2 2.8h3 M2 6l3 -3 M2.3 3.2l2.7 2.8" stroke="#5fe8e8" stroke-width="1.45" fill="none" vector-effect="non-scaling-stroke" shape-rendering="auto"/>
<path transform="translate(1051.4 29) scale(0.92 1.2)" d="M2.6 0V10 M7.4 0V10 M0 2H10 M2.6 5H7.4 M2.6 7.5H7.4 M0 10H10 M3 11.2L0.6 14 M7 11.2L9.4 14" fill="none" stroke="#5fe8e8" stroke-width="1" vector-effect="non-scaling-stroke"/>
<path transform="translate(1062.2 29) scale(0.96 1.2)" d="M5 0L0 5.2 M5 0L10 5.2 M2.6 5.2H7.4 M1 8H9 M5 5.2V13.6L3.8 12.8 M2.6 10L1 13 M7.4 10L9 13" fill="none" stroke="#5fe8e8" stroke-width="1" vector-effect="non-scaling-stroke"/>
<path transform="translate(970.2 608.2) scale(0.72 0.83)" d="M1 2H9 M4.6 0L2 6.6H8.6 M0 10H10 M5.6 4.2V14" fill="none" stroke="#5fe8e8" stroke-width="1" vector-effect="non-scaling-stroke"/>
<path transform="translate(981.4 608.2) scale(0.74 0.83)" d="M0 2.2H4 M2.4 0L0.8 5.6H4 M0 9H4.4 M2.4 4V14 M7.6 0L5 4.4 M7.6 0L10 4.4 M9.4 5.6L6.2 7.2 M6.2 5.4V12.8H10V11" fill="none" stroke="#5fe8e8" stroke-width="1" vector-effect="non-scaling-stroke"/>
</svg>
</body></html>
